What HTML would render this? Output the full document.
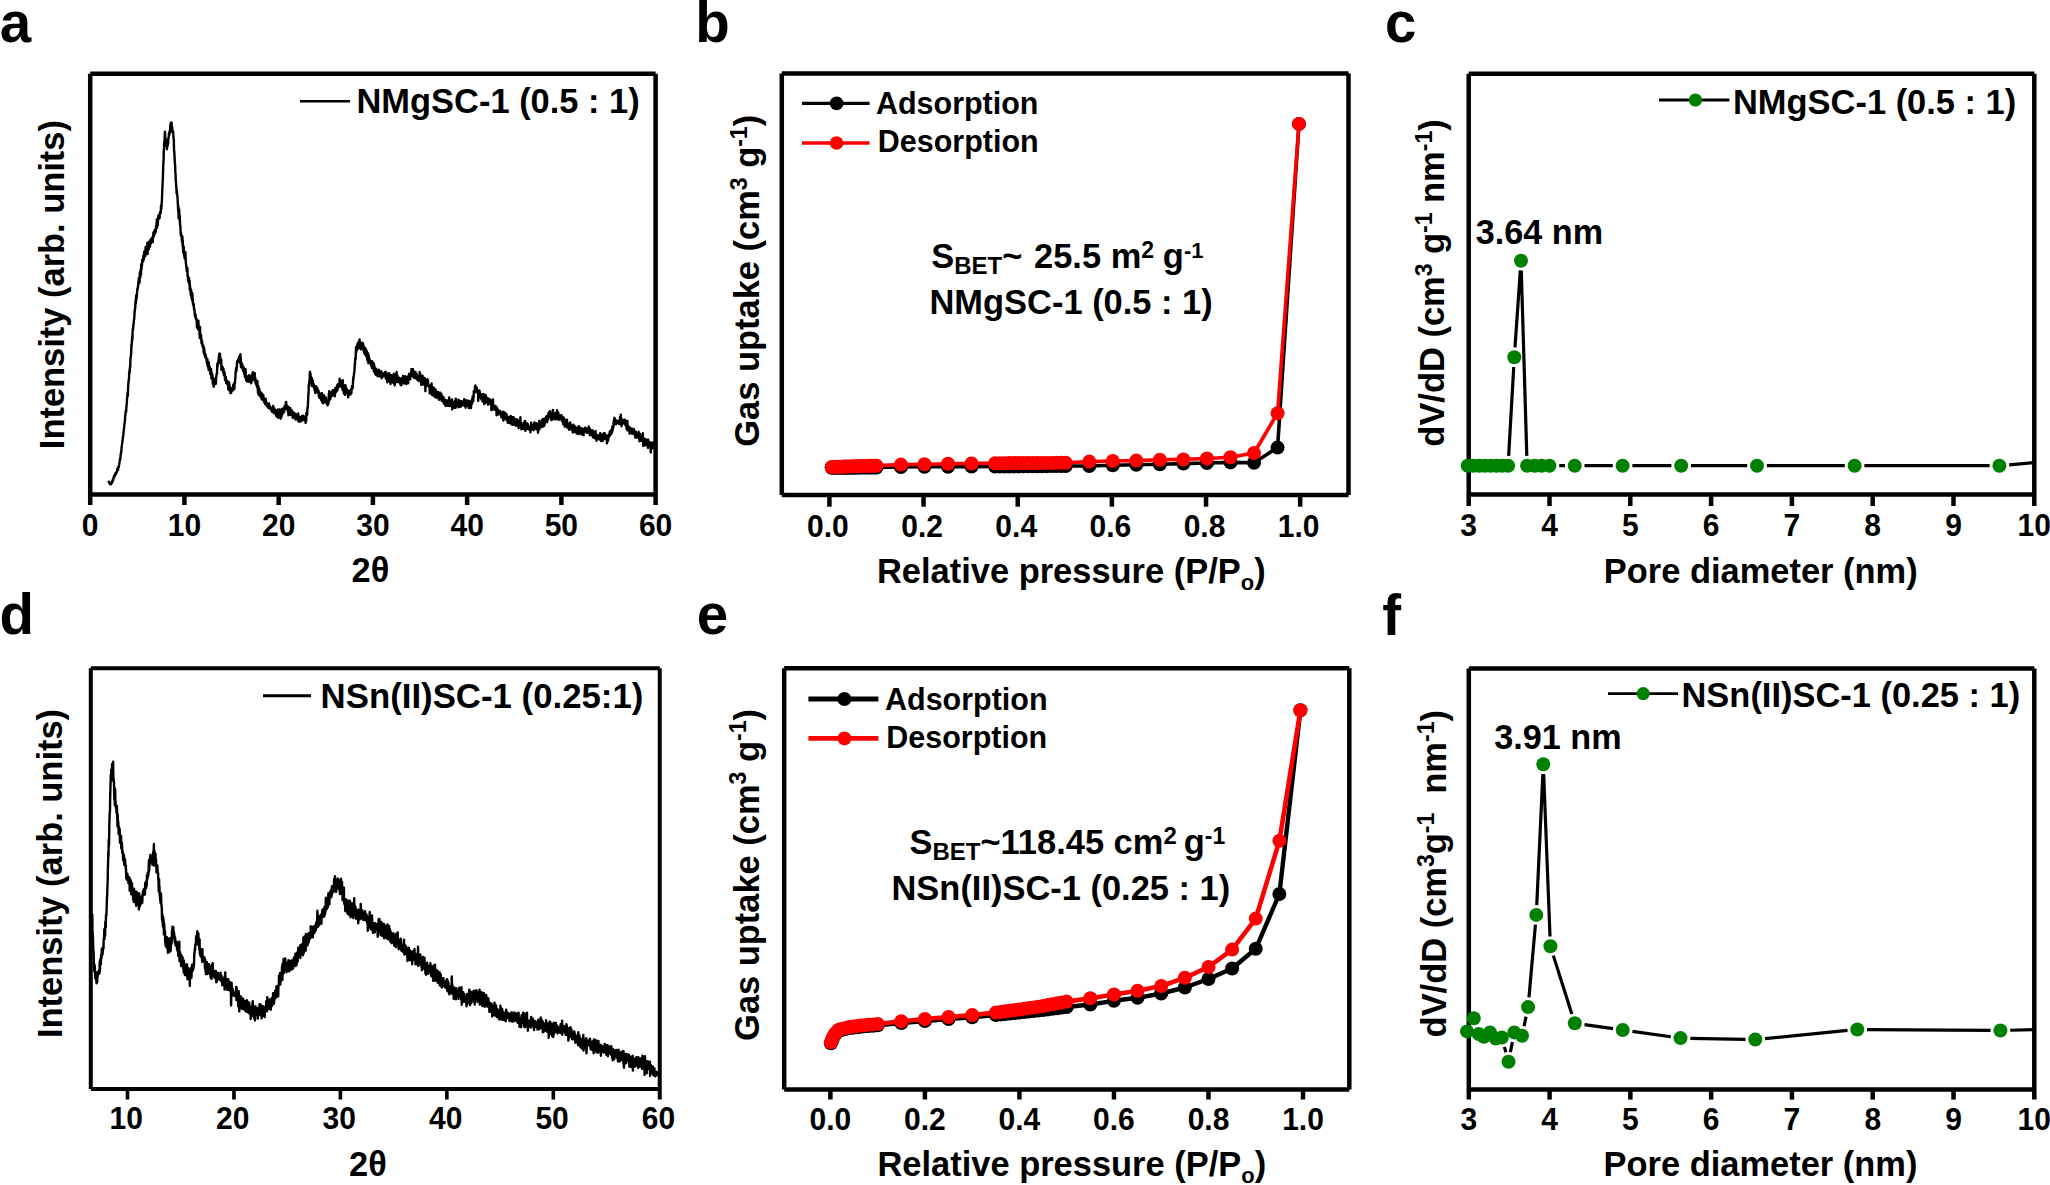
<!DOCTYPE html>
<html lang="en"><head><meta charset="utf-8"><title>Figure</title>
<style>
html,body{margin:0;padding:0;background:#fff;}
body{width:2050px;height:1185px;overflow:hidden;}
svg{display:block;}
svg text{font-family:"Liberation Sans",Arial,sans-serif;font-weight:bold;fill:#000;}
</style></head><body>
<svg width="2050" height="1185" viewBox="0 0 2050 1185">
<rect width="2050" height="1185" fill="#fff"/>
<text transform="translate(-0.30,41.50) scale(1.0,1.0)" font-size="56.5" text-anchor="start" >a</text>
<text transform="translate(695.20,41.80) scale(1.0,1.0)" font-size="56.5" text-anchor="start" >b</text>
<text transform="translate(1385.00,41.50) scale(1.0,1.0)" font-size="56.5" text-anchor="start" >c</text>
<text transform="translate(-0.50,634.40) scale(1.0,1.0)" font-size="56.5" text-anchor="start" >d</text>
<text transform="translate(696.70,634.40) scale(1.0,1.0)" font-size="56.5" text-anchor="start" >e</text>
<text transform="translate(1382.30,634.80) scale(1.0,1.0)" font-size="56.5" text-anchor="start" >f</text>
<line x1="90.20" y1="73.70" x2="655.60" y2="73.70" stroke="#000" stroke-width="4.5" stroke-linecap="butt"/>
<line x1="90.20" y1="494.60" x2="655.60" y2="494.60" stroke="#000" stroke-width="4.5" stroke-linecap="butt"/>
<line x1="90.20" y1="73.70" x2="90.20" y2="505.00" stroke="#000" stroke-width="4.5" stroke-linecap="butt"/>
<line x1="655.60" y1="73.70" x2="655.60" y2="505.00" stroke="#000" stroke-width="4.5" stroke-linecap="butt"/>
<line x1="184.43" y1="494.60" x2="184.43" y2="505.00" stroke="#000" stroke-width="4.5" stroke-linecap="butt"/>
<line x1="278.67" y1="494.60" x2="278.67" y2="505.00" stroke="#000" stroke-width="4.5" stroke-linecap="butt"/>
<line x1="372.90" y1="494.60" x2="372.90" y2="505.00" stroke="#000" stroke-width="4.5" stroke-linecap="butt"/>
<line x1="467.13" y1="494.60" x2="467.13" y2="505.00" stroke="#000" stroke-width="4.5" stroke-linecap="butt"/>
<line x1="561.37" y1="494.60" x2="561.37" y2="505.00" stroke="#000" stroke-width="4.5" stroke-linecap="butt"/>
<text transform="translate(90.20,535.60) scale(1.0,1.06)" font-size="30" text-anchor="middle" >0</text>
<text transform="translate(184.43,535.60) scale(1.0,1.06)" font-size="30" text-anchor="middle" >10</text>
<text transform="translate(278.67,535.60) scale(1.0,1.06)" font-size="30" text-anchor="middle" >20</text>
<text transform="translate(372.90,535.60) scale(1.0,1.06)" font-size="30" text-anchor="middle" >30</text>
<text transform="translate(467.13,535.60) scale(1.0,1.06)" font-size="30" text-anchor="middle" >40</text>
<text transform="translate(561.37,535.60) scale(1.0,1.06)" font-size="30" text-anchor="middle" >50</text>
<text transform="translate(655.60,535.60) scale(1.0,1.06)" font-size="30" text-anchor="middle" >60</text>
<text transform="translate(370.50,581.60) scale(1.0,1.025)" font-size="34.45" text-anchor="middle" >2θ</text>
<text transform="translate(64.00,284.60) rotate(-90) scale(1,1.025)" font-size="34.45" text-anchor="middle">Intensity (arb. units)</text>
<line x1="300.00" y1="101.20" x2="350.00" y2="101.20" stroke="#000" stroke-width="2.6" stroke-linecap="butt"/>
<text transform="translate(356.50,113.00) scale(1.0,1.025)" font-size="34.45" text-anchor="start" >NMgSC-1 (0.5 : 1)</text>
<line x1="781.80" y1="73.50" x2="1348.50" y2="73.50" stroke="#000" stroke-width="4.5" stroke-linecap="butt"/>
<line x1="781.80" y1="495.00" x2="1348.50" y2="495.00" stroke="#000" stroke-width="4.5" stroke-linecap="butt"/>
<line x1="781.80" y1="73.50" x2="781.80" y2="495.00" stroke="#000" stroke-width="4.5" stroke-linecap="butt"/>
<line x1="1348.50" y1="73.50" x2="1348.50" y2="495.00" stroke="#000" stroke-width="4.5" stroke-linecap="butt"/>
<line x1="829.40" y1="495.00" x2="829.40" y2="506.70" stroke="#000" stroke-width="4.5" stroke-linecap="butt"/>
<line x1="923.56" y1="495.00" x2="923.56" y2="506.70" stroke="#000" stroke-width="4.5" stroke-linecap="butt"/>
<line x1="1017.72" y1="495.00" x2="1017.72" y2="506.70" stroke="#000" stroke-width="4.5" stroke-linecap="butt"/>
<line x1="1111.88" y1="495.00" x2="1111.88" y2="506.70" stroke="#000" stroke-width="4.5" stroke-linecap="butt"/>
<line x1="1206.04" y1="495.00" x2="1206.04" y2="506.70" stroke="#000" stroke-width="4.5" stroke-linecap="butt"/>
<line x1="1300.20" y1="495.00" x2="1300.20" y2="506.70" stroke="#000" stroke-width="4.5" stroke-linecap="butt"/>
<text transform="translate(827.90,536.60) scale(1.0,1.06)" font-size="30" text-anchor="middle" >0.0</text>
<text transform="translate(922.06,536.60) scale(1.0,1.06)" font-size="30" text-anchor="middle" >0.2</text>
<text transform="translate(1016.22,536.60) scale(1.0,1.06)" font-size="30" text-anchor="middle" >0.4</text>
<text transform="translate(1110.38,536.60) scale(1.0,1.06)" font-size="30" text-anchor="middle" >0.6</text>
<text transform="translate(1204.54,536.60) scale(1.0,1.06)" font-size="30" text-anchor="middle" >0.8</text>
<text transform="translate(1298.70,536.60) scale(1.0,1.06)" font-size="30" text-anchor="middle" >1.0</text>
<text transform="translate(877.00,583.40) scale(1.0,1.025)" font-size="34.45" text-anchor="start" >Relative pressure (P/P<tspan font-size="22" dy="6.6">o</tspan><tspan dy="-6.6" font-size="1">&#8203;</tspan>)</text>
<text transform="translate(759.20,280.80) rotate(-90) scale(1,1.025)" font-size="34.45" text-anchor="middle">Gas uptake (cm<tspan font-size="23" dy="-12">3</tspan><tspan dy="12" font-size="1">&#8203;</tspan> g<tspan font-size="23" dy="-12">-1</tspan><tspan dy="12" font-size="1">&#8203;</tspan>)</text>
<line x1="1468.70" y1="73.80" x2="2034.30" y2="73.80" stroke="#000" stroke-width="4.5" stroke-linecap="butt"/>
<line x1="1468.70" y1="494.60" x2="2034.30" y2="494.60" stroke="#000" stroke-width="4.5" stroke-linecap="butt"/>
<line x1="1468.70" y1="73.80" x2="1468.70" y2="506.00" stroke="#000" stroke-width="4.5" stroke-linecap="butt"/>
<line x1="2034.30" y1="73.80" x2="2034.30" y2="506.00" stroke="#000" stroke-width="4.5" stroke-linecap="butt"/>
<line x1="1549.50" y1="494.60" x2="1549.50" y2="506.00" stroke="#000" stroke-width="4.5" stroke-linecap="butt"/>
<line x1="1630.30" y1="494.60" x2="1630.30" y2="506.00" stroke="#000" stroke-width="4.5" stroke-linecap="butt"/>
<line x1="1711.10" y1="494.60" x2="1711.10" y2="506.00" stroke="#000" stroke-width="4.5" stroke-linecap="butt"/>
<line x1="1791.90" y1="494.60" x2="1791.90" y2="506.00" stroke="#000" stroke-width="4.5" stroke-linecap="butt"/>
<line x1="1872.70" y1="494.60" x2="1872.70" y2="506.00" stroke="#000" stroke-width="4.5" stroke-linecap="butt"/>
<line x1="1953.50" y1="494.60" x2="1953.50" y2="506.00" stroke="#000" stroke-width="4.5" stroke-linecap="butt"/>
<text transform="translate(1468.70,536.20) scale(1.0,1.06)" font-size="30" text-anchor="middle" >3</text>
<text transform="translate(1549.50,536.20) scale(1.0,1.06)" font-size="30" text-anchor="middle" >4</text>
<text transform="translate(1630.30,536.20) scale(1.0,1.06)" font-size="30" text-anchor="middle" >5</text>
<text transform="translate(1711.10,536.20) scale(1.0,1.06)" font-size="30" text-anchor="middle" >6</text>
<text transform="translate(1791.90,536.20) scale(1.0,1.06)" font-size="30" text-anchor="middle" >7</text>
<text transform="translate(1872.70,536.20) scale(1.0,1.06)" font-size="30" text-anchor="middle" >8</text>
<text transform="translate(1953.50,536.20) scale(1.0,1.06)" font-size="30" text-anchor="middle" >9</text>
<text transform="translate(2034.30,536.20) scale(1.0,1.06)" font-size="30" text-anchor="middle" >10</text>
<text transform="translate(1603.80,582.80) scale(1.0,1.025)" font-size="34.45" text-anchor="start" >Pore diameter (nm)</text>
<text transform="translate(1444.00,283.00) rotate(-90) scale(1,1.025)" font-size="34.45" text-anchor="middle">dV/dD (cm<tspan font-size="23" dy="-12">3</tspan><tspan dy="12" font-size="1">&#8203;</tspan> g<tspan font-size="23" dy="-12">-1</tspan><tspan dy="12" font-size="1">&#8203;</tspan> nm<tspan font-size="23" dy="-12">-1</tspan><tspan dy="12" font-size="1">&#8203;</tspan>)</text>
<line x1="90.80" y1="668.20" x2="659.75" y2="668.20" stroke="#000" stroke-width="4.0" stroke-linecap="butt"/>
<line x1="90.80" y1="1089.00" x2="659.75" y2="1089.00" stroke="#000" stroke-width="4.0" stroke-linecap="butt"/>
<line x1="90.80" y1="668.20" x2="90.80" y2="1089.00" stroke="#000" stroke-width="4.0" stroke-linecap="butt"/>
<line x1="659.75" y1="668.20" x2="659.75" y2="1099.50" stroke="#000" stroke-width="4.0" stroke-linecap="butt"/>
<line x1="127.50" y1="1089.00" x2="127.50" y2="1099.50" stroke="#000" stroke-width="3.6" stroke-linecap="butt"/>
<line x1="233.95" y1="1089.00" x2="233.95" y2="1099.50" stroke="#000" stroke-width="3.6" stroke-linecap="butt"/>
<line x1="340.40" y1="1089.00" x2="340.40" y2="1099.50" stroke="#000" stroke-width="3.6" stroke-linecap="butt"/>
<line x1="446.85" y1="1089.00" x2="446.85" y2="1099.50" stroke="#000" stroke-width="3.6" stroke-linecap="butt"/>
<line x1="553.30" y1="1089.00" x2="553.30" y2="1099.50" stroke="#000" stroke-width="3.6" stroke-linecap="butt"/>
<text transform="translate(126.30,1129.30) scale(1.0,1.06)" font-size="30" text-anchor="middle" >10</text>
<text transform="translate(232.75,1129.30) scale(1.0,1.06)" font-size="30" text-anchor="middle" >20</text>
<text transform="translate(339.20,1129.30) scale(1.0,1.06)" font-size="30" text-anchor="middle" >30</text>
<text transform="translate(445.65,1129.30) scale(1.0,1.06)" font-size="30" text-anchor="middle" >40</text>
<text transform="translate(552.10,1129.30) scale(1.0,1.06)" font-size="30" text-anchor="middle" >50</text>
<text transform="translate(658.55,1129.30) scale(1.0,1.06)" font-size="30" text-anchor="middle" >60</text>
<text transform="translate(368.00,1175.60) scale(1.0,1.025)" font-size="34.45" text-anchor="middle" >2θ</text>
<text transform="translate(62.40,873.50) rotate(-90) scale(1,1.025)" font-size="34.45" text-anchor="middle">Intensity (arb. units)</text>
<line x1="263.00" y1="695.80" x2="311.00" y2="695.80" stroke="#000" stroke-width="3.0" stroke-linecap="butt"/>
<text transform="translate(320.60,708.40) scale(1.0,1.025)" font-size="34.8" text-anchor="start" >NSn(II)SC-1 (0.25:1)</text>
<line x1="784.20" y1="668.30" x2="1349.30" y2="668.30" stroke="#000" stroke-width="4.5" stroke-linecap="butt"/>
<line x1="784.20" y1="1089.50" x2="1349.30" y2="1089.50" stroke="#000" stroke-width="4.5" stroke-linecap="butt"/>
<line x1="784.20" y1="668.30" x2="784.20" y2="1089.50" stroke="#000" stroke-width="4.5" stroke-linecap="butt"/>
<line x1="1349.30" y1="668.30" x2="1349.30" y2="1089.50" stroke="#000" stroke-width="4.5" stroke-linecap="butt"/>
<line x1="830.40" y1="1089.50" x2="830.40" y2="1099.50" stroke="#000" stroke-width="4.5" stroke-linecap="butt"/>
<line x1="924.92" y1="1089.50" x2="924.92" y2="1099.50" stroke="#000" stroke-width="4.5" stroke-linecap="butt"/>
<line x1="1019.44" y1="1089.50" x2="1019.44" y2="1099.50" stroke="#000" stroke-width="4.5" stroke-linecap="butt"/>
<line x1="1113.96" y1="1089.50" x2="1113.96" y2="1099.50" stroke="#000" stroke-width="4.5" stroke-linecap="butt"/>
<line x1="1208.48" y1="1089.50" x2="1208.48" y2="1099.50" stroke="#000" stroke-width="4.5" stroke-linecap="butt"/>
<line x1="1303.00" y1="1089.50" x2="1303.00" y2="1099.50" stroke="#000" stroke-width="4.5" stroke-linecap="butt"/>
<text transform="translate(830.40,1130.00) scale(1.0,1.06)" font-size="30" text-anchor="middle" >0.0</text>
<text transform="translate(924.92,1130.00) scale(1.0,1.06)" font-size="30" text-anchor="middle" >0.2</text>
<text transform="translate(1019.44,1130.00) scale(1.0,1.06)" font-size="30" text-anchor="middle" >0.4</text>
<text transform="translate(1113.96,1130.00) scale(1.0,1.06)" font-size="30" text-anchor="middle" >0.6</text>
<text transform="translate(1208.48,1130.00) scale(1.0,1.06)" font-size="30" text-anchor="middle" >0.8</text>
<text transform="translate(1303.00,1130.00) scale(1.0,1.06)" font-size="30" text-anchor="middle" >1.0</text>
<text transform="translate(877.50,1176.00) scale(1.0,1.025)" font-size="34.45" text-anchor="start" >Relative pressure (P/P<tspan font-size="22" dy="6.6">o</tspan><tspan dy="-6.6" font-size="1">&#8203;</tspan>)</text>
<text transform="translate(758.50,875.00) rotate(-90) scale(1,1.025)" font-size="34.45" text-anchor="middle">Gas uptake (cm<tspan font-size="23" dy="-12">3</tspan><tspan dy="12" font-size="1">&#8203;</tspan> g<tspan font-size="23" dy="-12">-1</tspan><tspan dy="12" font-size="1">&#8203;</tspan>)</text>
<line x1="1468.80" y1="668.40" x2="2034.30" y2="668.40" stroke="#000" stroke-width="4.5" stroke-linecap="butt"/>
<line x1="1468.80" y1="1089.60" x2="2034.30" y2="1089.60" stroke="#000" stroke-width="4.5" stroke-linecap="butt"/>
<line x1="1468.80" y1="668.40" x2="1468.80" y2="1099.60" stroke="#000" stroke-width="4.5" stroke-linecap="butt"/>
<line x1="2034.30" y1="668.40" x2="2034.30" y2="1099.60" stroke="#000" stroke-width="4.5" stroke-linecap="butt"/>
<line x1="1549.59" y1="1089.60" x2="1549.59" y2="1099.60" stroke="#000" stroke-width="4.5" stroke-linecap="butt"/>
<line x1="1630.37" y1="1089.60" x2="1630.37" y2="1099.60" stroke="#000" stroke-width="4.5" stroke-linecap="butt"/>
<line x1="1711.16" y1="1089.60" x2="1711.16" y2="1099.60" stroke="#000" stroke-width="4.5" stroke-linecap="butt"/>
<line x1="1791.94" y1="1089.60" x2="1791.94" y2="1099.60" stroke="#000" stroke-width="4.5" stroke-linecap="butt"/>
<line x1="1872.73" y1="1089.60" x2="1872.73" y2="1099.60" stroke="#000" stroke-width="4.5" stroke-linecap="butt"/>
<line x1="1953.51" y1="1089.60" x2="1953.51" y2="1099.60" stroke="#000" stroke-width="4.5" stroke-linecap="butt"/>
<text transform="translate(1468.80,1130.20) scale(1.0,1.06)" font-size="30" text-anchor="middle" >3</text>
<text transform="translate(1549.59,1130.20) scale(1.0,1.06)" font-size="30" text-anchor="middle" >4</text>
<text transform="translate(1630.37,1130.20) scale(1.0,1.06)" font-size="30" text-anchor="middle" >5</text>
<text transform="translate(1711.16,1130.20) scale(1.0,1.06)" font-size="30" text-anchor="middle" >6</text>
<text transform="translate(1791.94,1130.20) scale(1.0,1.06)" font-size="30" text-anchor="middle" >7</text>
<text transform="translate(1872.73,1130.20) scale(1.0,1.06)" font-size="30" text-anchor="middle" >8</text>
<text transform="translate(1953.51,1130.20) scale(1.0,1.06)" font-size="30" text-anchor="middle" >9</text>
<text transform="translate(2034.30,1130.20) scale(1.0,1.06)" font-size="30" text-anchor="middle" >10</text>
<text transform="translate(1603.50,1175.90) scale(1.0,1.025)" font-size="34.45" text-anchor="start" >Pore diameter (nm)</text>
<text transform="translate(1446.30,873.75) rotate(-90) scale(1,1.025)" font-size="34.45" text-anchor="middle">dV/dD (cm<tspan font-size="23" dy="-12">3</tspan><tspan dy="12" font-size="1">&#8203;</tspan>g<tspan font-size="23" dy="-12">-1</tspan><tspan dy="12" font-size="1">&#8203;</tspan>&#160;&#160;nm<tspan font-size="23" dy="-12">-1</tspan><tspan dy="12" font-size="1">&#8203;</tspan>)</text>
<path d="M108.6 482.4 108.8 481.6 109.0 482.4 109.2 483.0 109.4 482.6 109.6 483.3 109.8 483.5 110.0 482.7 110.2 484.4 110.4 484.3 110.6 483.6 110.8 483.9 111.0 484.3 111.2 483.7 111.4 483.5 111.6 482.5 111.8 483.2 112.0 482.5 112.2 482.1 112.4 480.4 112.6 481.7 112.8 480.3 113.0 479.4 113.2 480.2 113.4 478.5 113.6 477.1 113.8 477.3 114.0 475.8 114.2 477.3 114.4 476.1 114.6 475.5 114.8 476.1 115.0 474.2 115.2 475.1 115.4 473.1 115.6 473.6 115.8 472.9 116.0 474.1 116.2 473.8 116.4 472.2 116.6 472.4 116.8 471.4 117.0 471.4 117.2 470.1 117.4 469.1 117.6 468.5 117.8 469.2 118.0 469.8 118.2 468.0 118.4 466.9 118.6 467.7 118.8 466.0 119.0 465.1 119.2 464.3 119.4 463.1 119.6 462.0 119.8 460.1 120.0 460.1 120.2 458.5 120.4 458.0 120.6 455.6 120.8 453.3 121.0 452.9 121.2 452.5 121.4 449.6 121.6 447.7 121.8 445.9 122.0 444.4 122.2 443.2 122.4 440.9 122.6 440.9 122.8 438.1 123.0 436.7 123.2 435.8 123.4 434.2 123.6 431.4 123.8 430.1 124.0 428.7 124.2 426.3 124.4 423.5 124.6 423.3 124.8 421.6 125.0 420.1 125.2 415.3 125.4 415.0 125.6 412.1 125.8 410.8 126.0 412.4 126.2 410.9 126.4 407.0 126.6 404.6 126.8 402.9 127.0 399.2 127.2 397.0 127.4 393.5 127.6 392.8 127.8 396.0 128.0 390.6 128.2 385.7 128.4 383.2 128.6 380.1 128.8 380.9 129.0 378.7 129.2 372.1 129.4 374.3 129.6 369.4 129.8 371.8 130.0 366.3 130.2 367.5 130.4 359.7 130.6 357.6 130.8 356.4 131.0 355.7 131.2 351.9 131.4 344.9 131.6 345.9 131.8 343.0 132.0 339.3 132.2 336.3 132.4 339.9 132.6 332.1 132.8 328.7 133.0 330.2 133.2 326.7 133.4 324.1 133.6 324.3 133.8 321.6 134.0 319.4 134.2 319.2 134.4 315.7 134.6 311.6 134.8 310.6 135.0 308.5 135.2 308.7 135.4 303.7 135.6 300.2 135.8 303.6 136.0 298.4 136.2 295.2 136.4 299.9 136.6 295.6 136.8 297.3 137.0 293.2 137.2 290.2 137.4 288.5 137.6 289.1 137.8 288.4 138.0 285.6 138.2 285.8 138.4 281.2 138.6 284.1 138.8 278.0 139.0 281.1 139.2 282.2 139.4 282.1 139.6 282.6 139.8 272.5 140.0 277.6 140.2 277.6 140.4 275.8 140.6 269.4 140.8 271.9 141.0 274.7 141.2 264.4 141.4 268.7 141.6 269.3 141.8 263.3 142.0 265.8 142.2 260.3 142.4 260.0 142.6 259.1 142.8 261.0 143.0 259.3 143.2 261.4 143.4 255.4 143.6 256.9 143.8 259.3 144.0 257.6 144.2 251.8 144.4 256.7 144.6 253.0 144.8 254.9 145.0 254.2 145.2 256.3 145.4 252.8 145.6 246.9 145.8 247.8 146.0 253.2 146.2 250.1 146.4 253.6 146.6 250.8 146.8 247.6 147.0 252.4 147.2 246.8 147.4 243.0 147.6 254.1 147.8 242.7 148.0 249.5 148.2 250.0 148.4 247.4 148.6 242.0 148.8 249.2 149.0 241.9 149.2 241.9 149.4 244.2 149.6 247.1 149.8 245.3 150.0 246.3 150.2 242.4 150.4 242.7 150.6 239.5 150.8 241.4 151.0 243.4 151.2 240.4 151.4 242.1 151.6 238.7 151.8 238.1 152.0 239.4 152.2 238.2 152.4 239.9 152.6 238.2 152.8 242.1 153.0 236.0 153.2 235.5 153.4 232.6 153.6 235.0 153.8 236.4 154.0 231.7 154.2 233.1 154.4 234.7 154.6 231.7 154.8 230.0 155.0 233.6 155.2 230.5 155.4 230.7 155.6 232.3 155.8 231.6 156.0 226.7 156.2 225.5 156.4 227.2 156.6 225.3 156.8 219.5 157.0 227.9 157.2 223.6 157.4 225.0 157.6 218.8 157.8 225.2 158.0 219.1 158.2 219.8 158.4 215.5 158.6 218.4 158.8 217.6 159.0 217.1 159.2 218.2 159.4 216.4 159.6 218.3 159.8 213.4 160.0 212.2 160.2 213.0 160.4 213.2 160.6 213.3 160.8 211.4 161.0 205.7 161.2 208.2 161.4 208.7 161.6 204.7 161.8 202.1 162.0 198.4 162.2 191.9 162.4 188.8 162.6 182.6 162.8 180.0 163.0 173.3 163.2 166.0 163.4 163.3 163.6 158.8 163.8 151.0 164.0 148.4 164.2 142.1 164.4 145.2 164.6 139.6 164.8 133.9 165.0 131.7 165.2 135.9 165.4 139.1 165.6 138.8 165.8 141.1 166.0 139.5 166.2 140.4 166.4 145.9 166.6 146.4 166.8 146.8 167.0 149.3 167.2 144.0 167.4 143.9 167.6 145.4 167.8 145.8 168.0 141.2 168.2 143.2 168.4 137.8 168.6 138.4 168.8 136.3 169.0 132.6 169.2 134.9 169.4 135.0 169.6 131.8 169.8 130.8 170.0 132.5 170.2 126.3 170.4 124.7 170.6 125.2 170.8 123.0 171.0 126.7 171.2 123.6 171.4 122.5 171.6 124.0 171.8 131.7 172.0 126.2 172.2 127.0 172.4 130.1 172.6 131.8 172.8 132.1 173.0 131.1 173.2 131.7 173.4 136.1 173.6 138.7 173.8 139.5 174.0 148.6 174.2 151.6 174.4 153.6 174.6 157.3 174.8 162.0 175.0 164.1 175.2 166.7 175.4 173.6 175.6 174.2 175.8 181.3 176.0 181.8 176.2 186.2 176.4 188.1 176.6 193.5 176.8 190.4 177.0 191.8 177.2 195.2 177.4 196.3 177.6 199.2 177.8 203.0 178.0 206.5 178.2 211.1 178.4 206.1 178.6 217.9 178.8 217.9 179.0 213.6 179.2 209.5 179.4 217.9 179.6 220.3 179.8 215.5 180.0 224.3 180.2 225.5 180.4 225.8 180.6 231.8 180.8 234.9 181.0 232.6 181.2 236.2 181.4 234.9 181.6 235.8 181.8 239.4 182.0 241.8 182.2 240.0 182.4 236.5 182.6 245.6 182.8 240.6 183.0 246.7 183.2 252.5 183.4 248.7 183.6 246.6 183.8 247.0 184.0 255.5 184.2 253.4 184.4 256.2 184.6 258.4 184.8 256.9 185.0 257.4 185.2 256.8 185.4 252.1 185.6 257.6 185.8 262.8 186.0 263.7 186.2 266.5 186.4 266.2 186.6 268.2 186.8 271.1 187.0 267.7 187.2 270.5 187.4 268.2 187.6 276.4 187.8 275.0 188.0 277.4 188.2 281.3 188.4 281.2 188.6 279.2 188.8 282.6 189.0 277.7 189.2 283.9 189.4 284.2 189.6 280.6 189.8 289.6 190.0 285.2 190.2 290.1 190.4 288.2 190.6 293.1 190.8 295.0 191.0 290.5 191.2 289.7 191.4 294.5 191.6 298.2 191.8 296.1 192.0 296.6 192.2 300.6 192.4 293.2 192.6 299.8 192.8 299.0 193.0 304.5 193.2 302.9 193.4 303.0 193.6 306.1 193.8 304.3 194.0 309.2 194.2 308.6 194.4 310.5 194.6 310.7 194.8 315.8 195.0 313.9 195.2 316.3 195.4 317.0 195.6 314.5 195.8 318.8 196.0 319.0 196.2 319.7 196.4 318.7 196.6 319.4 196.8 323.3 197.0 327.7 197.2 320.8 197.4 325.1 197.6 323.6 197.8 327.3 198.0 327.2 198.2 329.6 198.4 320.6 198.6 326.9 198.8 326.7 199.0 329.8 199.2 329.0 199.4 330.0 199.6 334.1 199.8 338.0 200.0 326.9 200.2 334.1 200.4 336.5 200.6 336.6 200.8 336.6 201.0 335.0 201.2 336.9 201.4 341.9 201.6 343.6 201.8 342.1 202.0 340.6 202.2 343.8 202.4 343.8 202.6 346.6 202.8 346.5 203.0 345.5 203.2 348.4 203.4 345.7 203.6 351.3 203.8 352.9 204.0 347.8 204.2 352.4 204.4 349.7 204.6 355.4 204.8 355.7 205.0 353.6 205.2 357.3 205.4 354.5 205.6 354.7 205.8 355.6 206.0 357.3 206.2 357.6 206.4 359.4 206.6 358.3 206.8 362.3 207.0 363.6 207.2 360.7 207.4 359.1 207.6 364.9 207.8 366.5 208.0 364.0 208.2 361.9 208.4 366.2 208.6 369.9 208.8 362.3 209.0 368.5 209.2 367.2 209.4 366.6 209.6 370.4 209.8 366.7 210.0 371.1 210.2 374.1 210.4 372.0 210.6 370.1 210.8 368.6 211.0 370.4 211.2 369.6 211.4 378.4 211.6 374.6 211.8 373.3 212.0 373.5 212.2 374.8 212.4 377.4 212.6 375.9 212.8 383.7 213.0 378.7 213.2 379.4 213.4 382.8 213.6 386.2 213.8 386.7 214.0 383.3 214.2 384.6 214.4 383.9 214.6 384.4 214.8 383.4 215.0 380.1 215.2 379.0 215.4 381.9 215.6 378.3 215.8 383.9 216.0 380.4 216.2 376.7 216.4 376.5 216.6 374.2 216.8 373.2 217.0 373.9 217.2 366.3 217.4 363.4 217.6 366.8 217.8 364.1 218.0 363.8 218.2 363.3 218.4 360.7 218.6 361.9 218.8 356.7 219.0 357.9 219.2 354.5 219.4 353.6 219.6 358.6 219.8 359.2 220.0 353.8 220.2 356.5 220.4 360.7 220.6 363.3 220.8 359.8 221.0 361.7 221.2 359.5 221.4 369.7 221.6 365.5 221.8 367.2 222.0 367.3 222.2 368.6 222.4 368.5 222.6 366.9 222.8 370.1 223.0 369.2 223.2 372.8 223.4 368.6 223.6 369.7 223.8 373.3 224.0 375.4 224.2 373.4 224.4 372.0 224.6 374.1 224.8 373.8 225.0 380.1 225.2 378.3 225.4 379.8 225.6 378.1 225.8 376.7 226.0 381.4 226.2 383.1 226.4 381.2 226.6 380.4 226.8 383.6 227.0 380.8 227.2 384.1 227.4 381.2 227.6 381.2 227.8 385.4 228.0 385.4 228.2 389.4 228.4 384.7 228.6 385.9 228.8 383.5 229.0 382.2 229.2 382.9 229.4 388.5 229.6 385.1 229.8 390.8 230.0 391.9 230.2 388.3 230.4 393.2 230.6 390.3 230.8 392.8 231.0 390.1 231.2 392.9 231.4 388.2 231.6 391.6 231.8 388.8 232.0 389.3 232.2 390.8 232.4 389.5 232.6 388.6 232.8 390.2 233.0 390.1 233.2 384.8 233.4 389.0 233.6 389.0 233.8 385.4 234.0 387.8 234.2 383.6 234.4 389.0 234.6 383.3 234.8 381.9 235.0 383.1 235.2 378.2 235.4 378.2 235.6 372.5 235.8 371.9 236.0 368.2 236.2 369.7 236.4 371.3 236.6 368.0 236.8 368.3 237.0 362.3 237.2 361.3 237.4 361.0 237.6 362.2 237.8 361.3 238.0 360.0 238.2 361.2 238.4 358.9 238.6 358.9 238.8 361.7 239.0 356.8 239.2 358.3 239.4 361.4 239.6 357.3 239.8 358.4 240.0 355.6 240.2 363.1 240.4 354.1 240.6 358.1 240.8 359.5 241.0 367.2 241.2 365.3 241.4 364.7 241.6 362.9 241.8 367.4 242.0 367.3 242.2 365.9 242.4 364.6 242.6 366.1 242.8 369.8 243.0 370.6 243.2 370.6 243.4 370.6 243.6 367.3 243.8 372.2 244.0 370.1 244.2 373.2 244.4 374.6 244.6 372.4 244.8 372.0 245.0 377.3 245.2 376.2 245.4 374.4 245.6 369.3 245.8 376.7 246.0 378.8 246.2 380.4 246.4 376.6 246.6 377.2 246.8 378.1 247.0 381.6 247.2 377.3 247.4 379.7 247.6 377.7 247.8 380.4 248.0 376.1 248.2 380.5 248.4 378.3 248.6 378.9 248.8 380.6 249.0 381.9 249.2 375.1 249.4 381.4 249.6 380.2 249.8 378.1 250.0 382.0 250.2 379.1 250.4 381.6 250.6 377.0 250.8 376.3 251.0 381.1 251.2 383.3 251.4 379.5 251.6 380.0 251.8 376.6 252.0 374.5 252.2 376.9 252.4 380.8 252.6 372.7 252.8 375.8 253.0 372.3 253.2 376.9 253.4 378.5 253.6 373.3 253.8 375.2 254.0 379.1 254.2 375.6 254.4 373.6 254.6 374.1 254.8 373.2 255.0 380.5 255.2 377.6 255.4 382.6 255.6 382.8 255.8 380.0 256.0 381.0 256.2 384.8 256.4 383.9 256.6 384.8 256.8 380.8 257.0 387.3 257.2 383.8 257.4 381.1 257.6 385.5 257.8 388.4 258.0 392.9 258.2 387.7 258.4 386.1 258.6 394.6 258.8 390.6 259.0 390.2 259.2 388.7 259.4 389.2 259.6 395.3 259.8 391.6 260.0 391.4 260.2 391.8 260.4 396.9 260.6 392.3 260.8 395.5 261.0 395.0 261.2 395.3 261.4 393.1 261.6 397.0 261.8 399.5 262.0 396.1 262.2 394.4 262.4 394.0 262.6 397.7 262.8 397.0 263.0 397.7 263.2 398.4 263.4 395.3 263.6 400.8 263.8 400.0 264.0 399.6 264.2 400.7 264.4 402.6 264.6 400.9 264.8 399.1 265.0 404.0 265.2 400.6 265.4 400.2 265.6 398.6 265.8 402.5 266.0 400.3 266.2 401.8 266.4 404.3 266.6 403.6 266.8 406.1 267.0 404.8 267.2 403.5 267.4 403.9 267.6 403.8 267.8 406.7 268.0 405.5 268.2 404.9 268.4 408.0 268.6 406.6 268.8 405.6 269.0 403.5 269.2 408.2 269.4 408.0 269.6 407.8 269.8 407.0 270.0 406.3 270.2 407.8 270.4 409.0 270.6 408.4 270.8 408.5 271.0 407.9 271.2 409.9 271.4 409.8 271.6 407.8 271.8 411.3 272.0 411.6 272.2 411.8 272.4 409.8 272.6 409.8 272.8 407.8 273.0 412.3 273.2 406.0 273.4 410.0 273.6 410.3 273.8 413.2 274.0 411.4 274.2 409.4 274.4 408.5 274.6 410.3 274.8 412.3 275.0 412.3 275.2 411.9 275.4 410.9 275.6 412.0 275.8 414.8 276.0 410.1 276.2 412.7 276.4 416.3 276.6 414.0 276.8 411.8 277.0 414.4 277.2 411.3 277.4 413.1 277.6 416.6 277.8 417.4 278.0 409.4 278.2 414.9 278.4 417.7 278.6 412.2 278.8 414.1 279.0 416.9 279.2 412.5 279.4 414.7 279.6 413.6 279.8 409.5 280.0 414.7 280.2 413.5 280.4 416.1 280.6 418.7 280.8 415.7 281.0 413.4 281.2 415.3 281.4 414.8 281.6 416.7 281.8 410.8 282.0 411.0 282.2 408.6 282.4 414.1 282.6 412.3 282.8 410.5 283.0 409.9 283.2 409.8 283.4 408.6 283.6 409.6 283.8 408.7 284.0 412.4 284.2 409.4 284.4 406.3 284.6 406.3 284.8 409.7 285.0 407.5 285.2 406.6 285.4 407.0 285.6 408.4 285.8 402.4 286.0 403.8 286.2 402.0 286.4 407.3 286.6 405.7 286.8 405.4 287.0 405.6 287.2 409.2 287.4 407.7 287.6 407.2 287.8 411.6 288.0 406.8 288.2 406.5 288.4 415.3 288.6 408.9 288.8 408.7 289.0 408.5 289.2 410.0 289.4 412.3 289.6 412.4 289.8 412.1 290.0 410.5 290.2 408.0 290.4 412.1 290.6 415.1 290.8 414.3 291.0 411.7 291.2 414.1 291.4 411.6 291.6 412.6 291.8 410.2 292.0 412.4 292.2 413.6 292.4 413.1 292.6 415.3 292.8 418.0 293.0 416.9 293.2 413.4 293.4 412.6 293.6 412.9 293.8 412.3 294.0 414.7 294.2 415.7 294.4 415.4 294.6 415.5 294.8 415.6 295.0 415.1 295.2 413.9 295.4 419.5 295.6 418.2 295.8 414.0 296.0 414.1 296.2 415.0 296.4 416.5 296.6 419.4 296.8 418.9 297.0 419.2 297.2 419.3 297.4 419.4 297.6 418.7 297.8 418.2 298.0 417.0 298.2 413.5 298.4 417.2 298.6 421.6 298.8 416.5 299.0 416.4 299.2 420.1 299.4 418.1 299.6 417.0 299.8 421.6 300.0 419.6 300.2 420.0 300.4 417.2 300.6 419.6 300.8 419.5 301.0 420.4 301.2 421.2 301.4 421.1 301.6 418.9 301.8 420.1 302.0 416.0 302.2 419.9 302.4 419.9 302.6 417.5 302.8 416.6 303.0 418.2 303.2 415.6 303.4 419.0 303.6 418.8 303.8 416.1 304.0 418.2 304.2 420.4 304.4 420.4 304.6 420.2 304.8 417.6 305.0 417.2 305.2 417.0 305.4 419.2 305.6 423.0 305.8 420.9 306.0 421.2 306.2 420.7 306.4 412.7 306.6 414.5 306.8 412.6 307.0 414.9 307.2 414.5 307.4 407.9 307.6 408.1 307.8 407.8 308.0 402.6 308.2 398.0 308.4 393.6 308.6 392.9 308.8 384.4 309.0 386.1 309.2 381.7 309.4 381.3 309.6 381.2 309.8 374.1 310.0 371.8 310.2 375.8 310.4 373.4 310.6 375.2 310.8 377.7 311.0 379.4 311.2 377.2 311.4 380.2 311.6 383.6 311.8 385.6 312.0 378.2 312.2 386.1 312.4 385.4 312.6 381.1 312.8 380.5 313.0 385.2 313.2 383.5 313.4 385.1 313.6 387.0 313.8 384.5 314.0 386.0 314.2 387.0 314.4 388.2 314.6 390.5 314.8 390.7 315.0 387.6 315.2 386.8 315.4 393.1 315.6 389.5 315.8 389.4 316.0 386.3 316.2 391.0 316.4 387.8 316.6 389.0 316.8 387.4 317.0 389.7 317.2 391.4 317.4 388.2 317.6 390.0 317.8 392.3 318.0 390.0 318.2 390.4 318.4 391.8 318.6 390.9 318.8 395.9 319.0 392.6 319.2 397.0 319.4 397.6 319.6 393.0 319.8 396.1 320.0 395.1 320.2 393.9 320.4 396.0 320.6 396.4 320.8 398.9 321.0 399.8 321.2 395.2 321.4 397.1 321.6 399.4 321.8 401.2 322.0 393.2 322.2 401.9 322.4 398.9 322.6 403.0 322.8 398.8 323.0 398.1 323.2 400.4 323.4 403.2 323.6 400.6 323.8 395.3 324.0 402.2 324.2 397.1 324.4 398.5 324.6 398.2 324.8 396.7 325.0 398.1 325.2 398.7 325.4 399.6 325.6 400.9 325.8 400.4 326.0 397.8 326.2 400.8 326.4 403.5 326.6 403.5 326.8 401.7 327.0 402.8 327.2 403.5 327.4 404.6 327.6 405.4 327.8 400.7 328.0 400.4 328.2 403.9 328.4 403.7 328.6 403.3 328.8 394.0 329.0 398.5 329.2 391.1 329.4 399.8 329.6 397.9 329.8 397.5 330.0 396.6 330.2 399.5 330.4 395.4 330.6 398.1 330.8 396.6 331.0 395.8 331.2 395.9 331.4 394.9 331.6 391.9 331.8 395.8 332.0 395.6 332.2 393.5 332.4 395.3 332.6 395.5 332.8 390.2 333.0 392.7 333.2 391.8 333.4 390.5 333.6 393.1 333.8 390.3 334.0 391.0 334.2 392.4 334.4 392.4 334.6 392.1 334.8 396.4 335.0 389.8 335.2 391.4 335.4 387.7 335.6 391.2 335.8 392.4 336.0 392.2 336.2 387.6 336.4 388.1 336.6 391.3 336.8 387.8 337.0 389.9 337.2 385.1 337.4 390.2 337.6 389.0 337.8 387.3 338.0 384.1 338.2 385.2 338.4 385.6 338.6 385.5 338.8 384.3 339.0 383.7 339.2 384.3 339.4 386.7 339.6 378.7 339.8 380.5 340.0 380.3 340.2 382.6 340.4 380.4 340.6 386.0 340.8 385.2 341.0 384.6 341.2 383.8 341.4 386.1 341.6 386.4 341.8 387.0 342.0 384.7 342.2 388.2 342.4 383.5 342.6 390.1 342.8 380.3 343.0 386.3 343.2 385.2 343.4 390.0 343.6 385.0 343.8 392.9 344.0 385.3 344.2 393.8 344.4 390.3 344.6 389.6 344.8 390.7 345.0 395.0 345.2 392.1 345.4 385.1 345.6 393.2 345.8 391.2 346.0 387.1 346.2 392.8 346.4 388.5 346.6 391.9 346.8 392.2 347.0 390.3 347.2 393.5 347.4 389.9 347.6 392.9 347.8 391.4 348.0 392.4 348.2 397.4 348.4 393.5 348.6 390.9 348.8 393.3 349.0 392.0 349.2 394.1 349.4 394.0 349.6 393.5 349.8 393.2 350.0 391.4 350.2 393.4 350.4 394.5 350.6 390.2 350.8 391.2 351.0 391.2 351.2 393.6 351.4 392.9 351.6 388.3 351.8 389.9 352.0 385.9 352.2 386.8 352.4 388.7 352.6 388.2 352.8 387.0 353.0 382.1 353.2 377.8 353.4 379.9 353.6 376.6 353.8 376.1 354.0 373.5 354.2 372.9 354.4 370.8 354.6 369.1 354.8 363.6 355.0 364.7 355.2 358.6 355.4 357.7 355.6 359.6 355.8 353.5 356.0 347.3 356.2 352.4 356.4 350.7 356.6 350.6 356.8 347.8 357.0 347.7 357.2 345.8 357.4 344.1 357.6 349.2 357.8 344.0 358.0 343.2 358.2 342.8 358.4 348.1 358.6 345.2 358.8 341.6 359.0 342.6 359.2 344.3 359.4 345.4 359.6 339.5 359.8 346.0 360.0 343.5 360.2 342.6 360.4 343.5 360.6 346.7 360.8 349.4 361.0 345.6 361.2 346.9 361.4 343.8 361.6 347.2 361.8 348.3 362.0 342.8 362.2 345.5 362.4 349.0 362.6 342.9 362.8 346.6 363.0 349.3 363.2 343.9 363.4 347.5 363.6 349.0 363.8 351.5 364.0 346.6 364.2 352.8 364.4 351.3 364.6 353.8 364.8 354.2 365.0 352.5 365.2 353.3 365.4 348.2 365.6 349.6 365.8 350.8 366.0 352.8 366.2 356.4 366.4 350.1 366.6 354.1 366.8 352.1 367.0 351.9 367.2 359.7 367.4 356.7 367.6 360.8 367.8 360.1 368.0 355.3 368.2 353.4 368.4 363.3 368.6 357.6 368.8 356.2 369.0 361.0 369.2 360.0 369.4 358.4 369.6 359.5 369.8 361.1 370.0 361.2 370.2 363.2 370.4 360.9 370.6 361.3 370.8 363.9 371.0 363.5 371.2 365.8 371.4 362.9 371.6 363.6 371.8 361.4 372.0 368.1 372.2 361.5 372.4 365.7 372.6 363.4 372.8 366.7 373.0 368.1 373.2 362.7 373.4 366.5 373.6 363.1 373.8 371.0 374.0 367.0 374.2 364.6 374.4 367.0 374.6 372.2 374.8 373.0 375.0 372.8 375.2 368.2 375.4 370.1 375.6 374.7 375.8 369.4 376.0 370.7 376.2 369.4 376.4 369.0 376.6 374.8 376.8 373.5 377.0 373.2 377.2 373.7 377.4 374.9 377.6 376.2 377.8 372.7 378.0 372.0 378.2 370.5 378.4 375.7 378.6 372.0 378.8 369.8 379.0 372.9 379.2 373.7 379.4 375.8 379.6 376.3 379.8 372.3 380.0 372.3 380.2 373.5 380.4 371.6 380.6 374.3 380.8 375.8 381.0 375.0 381.2 371.2 381.4 372.3 381.6 378.3 381.8 373.0 382.0 377.3 382.2 377.2 382.4 375.0 382.6 373.5 382.8 376.4 383.0 373.9 383.2 375.6 383.4 376.3 383.6 374.4 383.8 375.6 384.0 375.5 384.2 373.3 384.4 375.9 384.6 374.9 384.8 372.1 385.0 375.7 385.2 375.8 385.4 375.1 385.6 371.7 385.8 378.5 386.0 378.3 386.2 378.3 386.4 377.6 386.6 373.9 386.8 377.2 387.0 374.8 387.2 382.2 387.4 375.8 387.6 378.7 387.8 373.5 388.0 374.4 388.2 376.0 388.4 379.0 388.6 378.7 388.8 378.1 389.0 373.1 389.2 380.2 389.4 375.4 389.6 381.5 389.8 382.1 390.0 379.7 390.2 380.1 390.4 374.9 390.6 384.0 390.8 378.5 391.0 380.4 391.2 376.0 391.4 377.9 391.6 375.2 391.8 377.5 392.0 378.1 392.2 378.7 392.4 381.4 392.6 379.2 392.8 378.7 393.0 378.2 393.2 382.9 393.4 376.8 393.6 381.0 393.8 373.6 394.0 376.1 394.2 379.2 394.4 377.8 394.6 385.3 394.8 384.3 395.0 374.7 395.2 375.8 395.4 378.0 395.6 382.4 395.8 381.0 396.0 379.1 396.2 375.0 396.4 376.4 396.6 372.0 396.8 374.8 397.0 379.4 397.2 380.3 397.4 375.4 397.6 378.7 397.8 382.3 398.0 378.9 398.2 377.8 398.4 379.9 398.6 379.8 398.8 379.0 399.0 377.7 399.2 378.1 399.4 379.5 399.6 378.2 399.8 382.8 400.0 381.9 400.2 382.4 400.4 384.6 400.6 383.6 400.8 383.2 401.0 380.8 401.2 379.5 401.4 385.4 401.6 378.4 401.8 378.5 402.0 378.0 402.2 380.5 402.4 381.0 402.6 382.5 402.8 379.5 403.0 376.0 403.2 380.9 403.4 382.4 403.6 380.2 403.8 379.9 404.0 381.5 404.2 383.6 404.4 380.1 404.6 376.9 404.8 378.9 405.0 379.9 405.2 376.1 405.4 382.1 405.6 378.5 405.8 381.6 406.0 380.8 406.2 379.7 406.4 384.1 406.6 378.8 406.8 378.3 407.0 380.3 407.2 381.4 407.4 379.2 407.6 376.7 407.8 380.4 408.0 380.0 408.2 383.2 408.4 377.6 408.6 378.4 408.8 376.4 409.0 374.0 409.2 377.5 409.4 379.1 409.6 374.4 409.8 375.0 410.0 373.6 410.2 379.4 410.4 374.5 410.6 377.1 410.8 373.5 411.0 375.5 411.2 373.6 411.4 369.3 411.6 374.9 411.8 375.7 412.0 369.3 412.2 373.6 412.4 372.8 412.6 371.0 412.8 373.0 413.0 369.1 413.2 374.5 413.4 376.9 413.6 371.2 413.8 374.2 414.0 377.9 414.2 375.0 414.4 373.6 414.6 372.8 414.8 375.6 415.0 375.0 415.2 377.0 415.4 372.0 415.6 378.4 415.8 375.0 416.0 377.6 416.2 374.6 416.4 373.4 416.6 375.3 416.8 374.5 417.0 376.0 417.2 378.6 417.4 379.8 417.6 377.9 417.8 376.3 418.0 376.6 418.2 379.3 418.4 380.7 418.6 377.4 418.8 378.0 419.0 376.7 419.2 379.1 419.4 381.0 419.6 372.0 419.8 379.6 420.0 377.8 420.2 373.7 420.4 380.1 420.6 379.2 420.8 380.4 421.0 376.5 421.2 384.8 421.4 380.2 421.6 379.2 421.8 383.7 422.0 381.8 422.2 382.4 422.4 383.2 422.6 375.8 422.8 384.7 423.0 380.1 423.2 381.7 423.4 383.3 423.6 379.6 423.8 382.1 424.0 383.3 424.2 381.5 424.4 382.9 424.6 378.0 424.8 379.1 425.0 379.4 425.2 383.0 425.4 391.1 425.6 383.0 425.8 382.2 426.0 382.5 426.2 385.1 426.4 384.6 426.6 380.3 426.8 385.6 427.0 383.4 427.2 385.6 427.4 379.3 427.6 380.6 427.8 385.8 428.0 380.5 428.2 385.8 428.4 385.9 428.6 385.7 428.8 386.4 429.0 386.5 429.2 387.1 429.4 385.4 429.6 386.5 429.8 393.6 430.0 389.7 430.2 388.7 430.4 388.4 430.6 386.1 430.8 388.5 431.0 387.7 431.2 390.7 431.4 386.6 431.6 383.5 431.8 387.9 432.0 391.0 432.2 395.3 432.4 392.3 432.6 387.9 432.8 389.9 433.0 388.4 433.2 390.4 433.4 388.9 433.6 387.4 433.8 392.4 434.0 392.1 434.2 391.4 434.4 392.8 434.6 396.9 434.8 392.7 435.0 391.7 435.2 394.8 435.4 389.2 435.6 394.9 435.8 391.6 436.0 391.7 436.2 394.1 436.4 397.8 436.6 392.5 436.8 396.6 437.0 395.5 437.2 391.6 437.4 397.1 437.6 393.3 437.8 392.0 438.0 393.8 438.2 394.1 438.4 397.4 438.6 394.5 438.8 399.8 439.0 397.1 439.2 395.2 439.4 395.1 439.6 397.7 439.8 392.8 440.0 392.6 440.2 395.8 440.4 399.4 440.6 398.6 440.8 398.4 441.0 398.0 441.2 393.6 441.4 398.0 441.6 394.8 441.8 400.9 442.0 399.1 442.2 399.1 442.4 400.3 442.6 400.3 442.8 400.2 443.0 400.6 443.2 398.6 443.4 397.0 443.6 401.0 443.8 403.6 444.0 402.8 444.2 400.1 444.4 402.1 444.6 399.9 444.8 401.9 445.0 399.8 445.2 401.6 445.4 406.0 445.6 403.3 445.8 405.1 446.0 400.1 446.2 400.4 446.4 402.0 446.6 403.5 446.8 401.9 447.0 404.8 447.2 401.4 447.4 405.8 447.6 405.1 447.8 400.5 448.0 404.5 448.2 402.8 448.4 405.7 448.6 402.2 448.8 404.2 449.0 404.8 449.2 397.4 449.4 399.4 449.6 404.0 449.8 403.5 450.0 406.1 450.2 404.4 450.4 401.1 450.6 404.8 450.8 402.4 451.0 403.6 451.2 403.1 451.4 405.1 451.6 401.1 451.8 401.9 452.0 399.4 452.2 409.4 452.4 402.3 452.6 402.7 452.8 402.1 453.0 403.3 453.2 403.8 453.4 406.3 453.6 405.3 453.8 405.7 454.0 403.7 454.2 404.9 454.4 407.9 454.6 405.1 454.8 405.8 455.0 400.5 455.2 406.2 455.4 405.6 455.6 407.9 455.8 398.7 456.0 404.9 456.2 404.5 456.4 405.0 456.6 403.3 456.8 405.2 457.0 406.2 457.2 404.7 457.4 403.9 457.6 404.0 457.8 403.6 458.0 404.5 458.2 402.7 458.4 399.8 458.6 407.3 458.8 400.3 459.0 403.9 459.2 401.2 459.4 403.4 459.6 401.9 459.8 403.9 460.0 402.1 460.2 401.0 460.4 404.6 460.6 406.8 460.8 404.6 461.0 404.0 461.2 401.3 461.4 403.5 461.6 404.6 461.8 402.1 462.0 405.6 462.2 403.4 462.4 404.2 462.6 402.3 462.8 402.2 463.0 403.8 463.2 404.1 463.4 404.0 463.6 400.9 463.8 401.6 464.0 403.2 464.2 399.1 464.4 405.7 464.6 404.1 464.8 403.5 465.0 401.8 465.2 405.3 465.4 402.9 465.6 407.8 465.8 404.5 466.0 400.2 466.2 405.3 466.4 402.5 466.6 402.5 466.8 403.2 467.0 403.5 467.2 404.4 467.4 405.5 467.6 404.9 467.8 402.2 468.0 400.8 468.2 402.1 468.4 404.8 468.6 406.0 468.8 408.1 469.0 401.0 469.2 404.3 469.4 403.6 469.6 403.2 469.8 404.5 470.0 403.6 470.2 403.6 470.4 402.8 470.6 405.2 470.8 406.7 471.0 408.1 471.2 402.6 471.4 400.8 471.6 402.0 471.8 400.1 472.0 403.8 472.2 399.0 472.4 400.4 472.6 396.6 472.8 398.3 473.0 399.0 473.2 401.4 473.4 395.8 473.6 397.6 473.8 391.0 474.0 392.1 474.2 392.0 474.4 391.8 474.6 392.9 474.8 392.4 475.0 386.3 475.2 390.3 475.4 385.5 475.6 391.4 475.8 387.6 476.0 387.7 476.2 387.4 476.4 388.3 476.6 388.8 476.8 387.7 477.0 391.5 477.2 390.9 477.4 392.5 477.6 391.1 477.8 393.3 478.0 390.5 478.2 400.9 478.4 391.5 478.6 392.6 478.8 396.0 479.0 396.8 479.2 392.3 479.4 390.5 479.6 391.3 479.8 392.4 480.0 393.1 480.2 394.7 480.4 397.6 480.6 397.9 480.8 394.1 481.0 397.0 481.2 397.9 481.4 399.3 481.6 395.9 481.8 394.7 482.0 398.3 482.2 400.2 482.4 395.7 482.6 401.6 482.8 401.2 483.0 396.8 483.2 394.0 483.4 396.4 483.6 397.2 483.8 399.3 484.0 394.5 484.2 404.0 484.4 404.0 484.6 397.1 484.8 394.7 485.0 398.7 485.2 400.3 485.4 402.5 485.6 401.2 485.8 399.3 486.0 395.5 486.2 401.3 486.4 402.2 486.6 399.7 486.8 401.2 487.0 401.2 487.2 400.4 487.4 398.5 487.6 402.0 487.8 398.2 488.0 404.8 488.2 399.7 488.4 403.1 488.6 400.4 488.8 403.1 489.0 402.0 489.2 403.8 489.4 401.0 489.6 399.2 489.8 402.5 490.0 402.5 490.2 400.0 490.4 402.0 490.6 400.0 490.8 404.2 491.0 403.2 491.2 404.3 491.4 410.3 491.6 405.0 491.8 405.7 492.0 406.4 492.2 404.9 492.4 404.1 492.6 407.6 492.8 408.2 493.0 399.5 493.2 405.9 493.4 405.7 493.6 405.4 493.8 409.6 494.0 405.8 494.2 409.2 494.4 406.2 494.6 406.7 494.8 409.5 495.0 406.4 495.2 407.9 495.4 405.9 495.6 406.6 495.8 410.4 496.0 410.3 496.2 406.7 496.4 406.8 496.6 415.3 496.8 408.4 497.0 408.1 497.2 411.4 497.4 408.7 497.6 409.8 497.8 412.8 498.0 413.3 498.2 410.8 498.4 414.4 498.6 411.3 498.8 411.3 499.0 412.0 499.2 411.5 499.4 413.5 499.6 413.1 499.8 410.8 500.0 413.1 500.2 411.7 500.4 411.7 500.6 412.8 500.8 415.6 501.0 414.0 501.2 416.4 501.4 417.2 501.6 413.8 501.8 412.7 502.0 412.4 502.2 414.9 502.4 416.4 502.6 418.1 502.8 411.8 503.0 416.9 503.2 417.4 503.4 420.6 503.6 415.7 503.8 415.4 504.0 412.2 504.2 414.0 504.4 413.4 504.6 413.8 504.8 414.2 505.0 412.9 505.2 416.3 505.4 417.5 505.6 418.4 505.8 416.7 506.0 419.4 506.2 419.6 506.4 414.0 506.6 416.9 506.8 414.9 507.0 415.6 507.2 418.3 507.4 417.8 507.6 421.4 507.8 422.9 508.0 419.4 508.2 418.1 508.4 418.3 508.6 418.7 508.8 420.1 509.0 417.3 509.2 420.3 509.4 418.6 509.6 421.6 509.8 422.4 510.0 423.3 510.2 419.2 510.4 416.7 510.6 416.0 510.8 419.2 511.0 416.8 511.2 416.4 511.4 419.4 511.6 418.1 511.8 421.9 512.0 424.7 512.2 420.1 512.4 421.3 512.6 417.3 512.8 421.3 513.0 419.4 513.2 418.6 513.4 417.1 513.6 424.8 513.8 417.8 514.0 418.8 514.2 421.6 514.4 422.3 514.6 422.4 514.8 422.1 515.0 420.0 515.2 423.7 515.4 422.6 515.6 419.1 515.8 425.9 516.0 421.7 516.2 424.6 516.4 419.5 516.6 420.2 516.8 421.6 517.0 421.4 517.2 425.2 517.4 419.5 517.6 423.5 517.8 421.0 518.0 424.4 518.2 423.8 518.4 422.2 518.6 428.3 518.8 423.4 519.0 426.0 519.2 420.8 519.4 423.5 519.6 424.0 519.8 424.2 520.0 423.2 520.2 422.2 520.4 417.3 520.6 422.9 520.8 422.2 521.0 423.7 521.2 426.2 521.4 429.3 521.6 425.7 521.8 426.8 522.0 426.0 522.2 426.3 522.4 426.1 522.6 424.3 522.8 424.2 523.0 425.7 523.2 429.0 523.4 426.9 523.6 428.7 523.8 422.5 524.0 425.9 524.2 426.3 524.4 426.6 524.6 422.6 524.8 421.6 525.0 421.0 525.2 424.8 525.4 430.9 525.6 426.3 525.8 423.2 526.0 426.6 526.2 425.3 526.4 426.4 526.6 425.1 526.8 423.3 527.0 425.0 527.2 427.8 527.4 426.9 527.6 429.0 527.8 424.0 528.0 428.7 528.2 426.6 528.4 427.0 528.6 429.3 528.8 426.4 529.0 427.3 529.2 428.1 529.4 428.2 529.6 428.6 529.8 429.7 530.0 428.1 530.2 426.1 530.4 432.4 530.6 427.1 530.8 428.0 531.0 425.6 531.2 422.6 531.4 425.7 531.6 427.5 531.8 428.6 532.0 427.5 532.2 429.1 532.4 429.5 532.6 429.5 532.8 427.3 533.0 427.5 533.2 426.8 533.4 425.3 533.6 430.3 533.8 424.5 534.0 427.0 534.2 427.6 534.4 422.4 534.6 428.6 534.8 426.2 535.0 427.4 535.2 426.2 535.4 423.6 535.6 427.3 535.8 427.1 536.0 429.0 536.2 427.8 536.4 423.1 536.6 429.1 536.8 428.4 537.0 428.3 537.2 427.6 537.4 425.0 537.6 427.7 537.8 425.7 538.0 432.7 538.2 425.9 538.4 424.0 538.6 425.6 538.8 429.4 539.0 425.0 539.2 420.9 539.4 429.4 539.6 426.8 539.8 424.9 540.0 427.4 540.2 423.7 540.4 423.0 540.6 427.5 540.8 424.1 541.0 426.2 541.2 425.0 541.4 426.6 541.6 424.9 541.8 420.0 542.0 425.8 542.2 423.1 542.4 426.0 542.6 424.1 542.8 426.8 543.0 422.9 543.2 418.9 543.4 422.6 543.6 424.3 543.8 422.2 544.0 421.8 544.2 425.9 544.4 422.2 544.6 424.7 544.8 422.4 545.0 418.5 545.2 419.3 545.4 420.3 545.6 421.3 545.8 418.5 546.0 416.8 546.2 417.3 546.4 418.0 546.6 416.9 546.8 417.2 547.0 422.2 547.2 418.4 547.4 415.6 547.6 417.0 547.8 420.2 548.0 418.1 548.2 416.3 548.4 413.5 548.6 412.7 548.8 415.6 549.0 416.1 549.2 412.7 549.4 413.2 549.6 416.1 549.8 411.2 550.0 412.2 550.2 415.9 550.4 417.2 550.6 416.6 550.8 418.0 551.0 419.2 551.2 417.7 551.4 415.0 551.6 420.3 551.8 419.2 552.0 417.5 552.2 413.6 552.4 416.3 552.6 410.8 552.8 414.7 553.0 409.9 553.2 414.6 553.4 417.8 553.6 415.6 553.8 419.1 554.0 415.6 554.2 415.8 554.4 414.9 554.6 416.8 554.8 415.6 555.0 418.3 555.2 419.3 555.4 416.5 555.6 413.2 555.8 417.0 556.0 418.8 556.2 417.2 556.4 416.5 556.6 417.9 556.8 418.8 557.0 410.1 557.2 419.3 557.4 417.6 557.6 417.0 557.8 414.7 558.0 416.5 558.2 417.3 558.4 412.7 558.6 417.8 558.8 416.5 559.0 419.8 559.2 418.2 559.4 416.5 559.6 417.3 559.8 418.8 560.0 417.9 560.2 418.9 560.4 416.4 560.6 415.4 560.8 417.1 561.0 415.4 561.2 417.0 561.4 419.7 561.6 415.5 561.8 416.6 562.0 421.2 562.2 418.6 562.4 419.9 562.6 417.4 562.8 418.0 563.0 419.9 563.2 424.3 563.4 421.9 563.6 417.5 563.8 422.3 564.0 423.5 564.2 423.2 564.4 419.2 564.6 421.9 564.8 426.8 565.0 420.3 565.2 423.3 565.4 421.1 565.6 420.1 565.8 422.1 566.0 425.5 566.2 426.0 566.4 421.7 566.6 422.7 566.8 422.0 567.0 419.6 567.2 425.6 567.4 427.9 567.6 427.9 567.8 423.8 568.0 427.9 568.2 427.6 568.4 424.6 568.6 425.5 568.8 424.9 569.0 426.3 569.2 429.9 569.4 424.0 569.6 423.6 569.8 428.2 570.0 426.5 570.2 422.4 570.4 424.4 570.6 424.9 570.8 425.5 571.0 427.6 571.2 429.2 571.4 426.8 571.6 427.6 571.8 425.8 572.0 429.7 572.2 430.5 572.4 427.2 572.6 426.2 572.8 432.5 573.0 430.1 573.2 426.3 573.4 424.6 573.6 427.8 573.8 431.1 574.0 427.5 574.2 428.2 574.4 427.8 574.6 430.4 574.8 432.1 575.0 426.5 575.2 428.7 575.4 429.0 575.6 428.2 575.8 427.1 576.0 431.6 576.2 430.2 576.4 431.6 576.6 433.4 576.8 429.4 577.0 431.5 577.2 429.6 577.4 430.4 577.6 431.4 577.8 430.4 578.0 427.5 578.2 434.1 578.4 431.2 578.6 428.4 578.8 426.1 579.0 430.9 579.2 432.4 579.4 433.2 579.6 433.5 579.8 430.3 580.0 432.5 580.2 427.8 580.4 431.5 580.6 433.2 580.8 430.0 581.0 431.0 581.2 431.6 581.4 431.7 581.6 434.5 581.8 428.9 582.0 434.1 582.2 428.4 582.4 429.6 582.6 429.3 582.8 430.7 583.0 429.7 583.2 431.8 583.4 430.7 583.6 435.3 583.8 431.3 584.0 429.9 584.2 431.1 584.4 431.5 584.6 429.8 584.8 427.7 585.0 428.3 585.2 430.3 585.4 431.7 585.6 430.8 585.8 429.5 586.0 430.9 586.2 428.5 586.4 430.1 586.6 432.7 586.8 432.2 587.0 432.8 587.2 429.2 587.4 430.6 587.6 428.1 587.8 432.4 588.0 429.7 588.2 427.9 588.4 429.8 588.6 431.5 588.8 426.4 589.0 428.2 589.2 433.5 589.4 431.8 589.6 431.6 589.8 428.4 590.0 435.4 590.2 434.3 590.4 433.7 590.6 430.0 590.8 433.8 591.0 435.1 591.2 432.1 591.4 432.4 591.6 432.0 591.8 434.5 592.0 432.8 592.2 432.8 592.4 430.5 592.6 430.2 592.8 435.9 593.0 437.4 593.2 435.9 593.4 437.2 593.6 433.1 593.8 434.3 594.0 435.3 594.2 434.2 594.4 438.3 594.6 431.9 594.8 433.7 595.0 434.2 595.2 433.6 595.4 437.0 595.6 431.0 595.8 437.8 596.0 437.4 596.2 436.3 596.4 438.7 596.6 440.8 596.8 436.3 597.0 437.6 597.2 437.0 597.4 437.3 597.6 435.2 597.8 434.9 598.0 437.8 598.2 435.5 598.4 438.7 598.6 438.5 598.8 436.0 599.0 437.8 599.2 437.3 599.4 436.8 599.6 439.6 599.8 437.2 600.0 437.7 600.2 433.1 600.4 438.5 600.6 434.1 600.8 436.4 601.0 440.7 601.2 441.1 601.4 436.4 601.6 434.6 601.8 438.1 602.0 436.5 602.2 438.0 602.4 434.5 602.6 439.7 602.8 440.7 603.0 434.3 603.2 435.8 603.4 435.9 603.6 439.0 603.8 433.3 604.0 437.9 604.2 437.0 604.4 435.8 604.6 439.0 604.8 433.4 605.0 434.6 605.2 435.9 605.4 439.1 605.6 436.8 605.8 435.8 606.0 438.6 606.2 436.6 606.4 436.3 606.6 437.0 606.8 438.4 607.0 443.4 607.2 435.4 607.4 438.3 607.6 437.4 607.8 437.2 608.0 441.0 608.2 439.0 608.4 438.4 608.6 435.6 608.8 434.4 609.0 436.4 609.2 434.8 609.4 433.8 609.6 436.1 609.8 431.6 610.0 432.3 610.2 435.1 610.4 432.9 610.6 434.1 610.8 430.4 611.0 433.4 611.2 430.0 611.4 433.8 611.6 432.0 611.8 430.7 612.0 432.4 612.2 429.2 612.4 426.5 612.6 430.6 612.8 427.4 613.0 428.6 613.2 425.7 613.4 427.3 613.6 422.3 613.8 420.8 614.0 419.9 614.2 424.0 614.4 417.7 614.6 418.1 614.8 418.8 615.0 422.4 615.2 422.8 615.4 420.0 615.6 423.5 615.8 422.4 616.0 424.3 616.2 423.7 616.4 420.1 616.6 422.0 616.8 421.2 617.0 422.5 617.2 421.9 617.4 421.5 617.6 422.9 617.8 421.5 618.0 422.9 618.2 421.3 618.4 420.9 618.6 423.2 618.8 423.2 619.0 423.8 619.2 422.4 619.4 420.6 619.6 421.4 619.8 421.3 620.0 417.0 620.2 418.4 620.4 424.2 620.6 420.7 620.8 414.6 621.0 420.6 621.2 421.4 621.4 418.4 621.6 426.2 621.8 423.8 622.0 423.2 622.2 421.1 622.4 422.7 622.6 423.6 622.8 422.8 623.0 420.4 623.2 422.4 623.4 422.4 623.6 422.8 623.8 420.0 624.0 423.0 624.2 422.5 624.4 423.1 624.6 423.1 624.8 419.6 625.0 424.7 625.2 424.6 625.4 420.1 625.6 423.0 625.8 421.5 626.0 422.8 626.2 426.3 626.4 425.6 626.6 429.1 626.8 425.4 627.0 423.1 627.2 426.1 627.4 420.9 627.6 430.4 627.8 427.5 628.0 428.3 628.2 428.0 628.4 426.2 628.6 428.1 628.8 427.0 629.0 428.0 629.2 430.1 629.4 427.2 629.6 433.6 629.8 427.9 630.0 432.1 630.2 429.1 630.4 427.9 630.6 431.5 630.8 431.1 631.0 430.4 631.2 430.9 631.4 429.8 631.6 432.1 631.8 430.3 632.0 431.5 632.2 433.9 632.4 428.8 632.6 430.6 632.8 430.5 633.0 430.3 633.2 429.3 633.4 431.7 633.6 432.7 633.8 432.2 634.0 429.2 634.2 434.2 634.4 434.3 634.6 433.1 634.8 430.9 635.0 431.4 635.2 437.5 635.4 437.1 635.6 434.6 635.8 431.7 636.0 436.5 636.2 434.4 636.4 437.7 636.6 433.1 636.8 435.5 637.0 434.3 637.2 436.5 637.4 433.7 637.6 437.2 637.8 434.6 638.0 433.8 638.2 437.0 638.4 436.5 638.6 431.7 638.8 436.3 639.0 436.8 639.2 437.1 639.4 441.3 639.6 435.7 639.8 437.3 640.0 433.9 640.2 434.6 640.4 436.6 640.6 437.8 640.8 437.8 641.0 439.7 641.2 440.1 641.4 440.9 641.6 438.6 641.8 440.2 642.0 437.8 642.2 440.3 642.4 440.7 642.6 438.8 642.8 433.3 643.0 438.9 643.2 445.9 643.4 440.4 643.6 439.4 643.8 441.1 644.0 443.4 644.2 441.9 644.4 440.9 644.6 438.8 644.8 441.0 645.0 439.3 645.2 442.7 645.4 445.3 645.6 444.5 645.8 441.2 646.0 440.5 646.2 439.8 646.4 443.8 646.6 444.2 646.8 444.8 647.0 444.0 647.2 440.9 647.4 439.6 647.6 446.1 647.8 442.1 648.0 448.0 648.2 439.8 648.4 442.0 648.6 442.5 648.8 445.1 649.0 446.0 649.2 443.5 649.4 446.0 649.6 442.1 649.8 443.9 650.0 442.4 650.2 443.9 650.4 443.8 650.6 445.8 650.8 452.5 651.0 442.5 651.2 445.0 651.4 446.9 651.6 445.7 651.8 448.6 652.0 443.5 652.2 447.4 652.4 444.2 652.6 447.6 652.8 446.3 653.0 446.6 653.2 444.9 653.4 442.3 653.6 444.0 653.8 447.8 654.0 445.9 654.2 448.0 654.4 443.8" fill="none" stroke="#000" stroke-width="2.4" stroke-linejoin="round"/>
<path d="M91.7 917.2 91.9 913.9 92.1 918.2 92.3 914.5 92.5 930.2 92.7 934.0 93.0 938.2 93.2 946.6 93.4 952.1 93.6 951.4 93.8 957.2 94.0 969.5 94.2 970.9 94.4 971.3 94.6 965.0 94.8 966.6 95.1 974.4 95.3 978.4 95.5 973.2 95.7 971.6 95.9 979.2 96.1 974.7 96.3 979.5 96.5 983.4 96.7 980.8 96.9 979.6 97.2 982.3 97.4 976.2 97.6 976.9 97.8 974.4 98.0 974.7 98.2 972.6 98.4 972.7 98.6 971.0 98.8 971.7 99.0 970.6 99.3 970.4 99.5 973.6 99.7 961.4 99.9 971.1 100.1 964.3 100.3 959.3 100.5 962.1 100.7 961.8 100.9 964.3 101.1 954.9 101.4 958.5 101.6 956.8 101.8 948.6 102.0 949.3 102.2 954.9 102.4 954.0 102.6 954.2 102.8 950.8 103.0 949.0 103.2 946.5 103.5 948.7 103.7 938.6 103.9 939.3 104.1 939.3 104.3 929.5 104.5 938.9 104.7 928.4 104.9 929.2 105.1 936.1 105.3 922.1 105.6 921.2 105.8 927.6 106.0 914.9 106.2 915.4 106.4 915.4 106.6 909.2 106.8 903.8 107.0 897.0 107.2 895.1 107.4 887.8 107.7 880.1 107.9 868.7 108.1 862.6 108.3 851.4 108.5 856.8 108.7 839.8 108.9 845.8 109.1 844.2 109.3 824.8 109.5 818.8 109.8 812.0 110.0 810.3 110.2 794.8 110.4 790.4 110.6 780.9 110.8 774.8 111.0 781.1 111.2 769.4 111.4 781.2 111.6 773.2 111.9 775.1 112.1 763.9 112.3 774.3 112.5 770.0 112.7 771.1 112.9 766.5 113.1 761.6 113.3 772.5 113.5 780.0 113.7 779.6 114.0 782.5 114.2 794.5 114.4 799.7 114.6 792.5 114.8 805.0 115.0 788.4 115.2 789.9 115.4 805.1 115.6 801.6 115.8 807.1 116.1 808.5 116.3 807.4 116.5 812.7 116.7 811.9 116.9 805.9 117.1 815.6 117.3 817.1 117.5 826.4 117.7 814.5 117.9 821.5 118.2 821.1 118.4 824.2 118.6 833.7 118.8 829.3 119.0 826.9 119.2 831.5 119.4 835.2 119.6 828.7 119.8 833.3 120.0 842.8 120.3 841.1 120.5 838.5 120.7 837.9 120.9 840.8 121.1 836.0 121.3 848.4 121.5 847.1 121.7 847.6 121.9 842.7 122.1 846.6 122.4 853.4 122.6 853.7 122.8 851.8 123.0 857.5 123.2 860.4 123.4 854.3 123.6 855.9 123.8 855.4 124.0 855.1 124.2 864.6 124.5 864.3 124.7 864.5 124.9 858.9 125.1 860.4 125.3 865.6 125.5 865.0 125.7 868.3 125.9 865.7 126.1 872.5 126.3 878.4 126.6 878.3 126.8 879.5 127.0 873.8 127.2 878.4 127.4 873.8 127.6 880.3 127.8 875.7 128.0 876.2 128.2 876.5 128.4 883.2 128.7 882.3 128.9 882.9 129.1 878.1 129.3 884.0 129.5 877.8 129.7 890.7 129.9 884.4 130.1 886.3 130.3 885.6 130.5 879.9 130.8 881.3 131.0 887.5 131.2 894.4 131.4 884.0 131.6 886.2 131.8 889.5 132.0 883.1 132.2 890.8 132.4 889.5 132.6 891.6 132.9 890.7 133.1 899.3 133.3 892.7 133.5 895.4 133.7 901.1 133.9 902.1 134.1 888.8 134.3 894.4 134.5 901.4 134.7 891.3 135.0 893.7 135.2 892.6 135.4 892.6 135.6 893.8 135.8 899.6 136.0 904.4 136.2 905.7 136.4 899.7 136.6 891.8 136.8 900.0 137.1 899.1 137.3 902.2 137.5 900.5 137.7 893.9 137.9 903.3 138.1 893.3 138.3 899.3 138.5 903.7 138.7 904.2 138.9 909.5 139.2 893.5 139.4 905.0 139.6 906.7 139.8 902.4 140.0 905.8 140.2 898.1 140.4 904.8 140.6 903.7 140.8 896.8 141.0 897.6 141.3 899.0 141.5 896.5 141.7 903.0 141.9 898.8 142.1 903.0 142.3 901.8 142.5 896.6 142.7 895.0 142.9 891.3 143.1 891.3 143.4 890.7 143.6 895.0 143.8 889.2 144.0 892.7 144.2 892.6 144.4 888.6 144.6 888.8 144.8 894.6 145.0 894.2 145.2 882.9 145.5 884.3 145.7 882.5 145.9 881.8 146.1 888.3 146.3 883.6 146.5 885.0 146.7 886.1 146.9 875.5 147.1 875.5 147.3 875.3 147.6 878.5 147.8 872.6 148.0 874.6 148.2 875.8 148.4 874.6 148.6 870.4 148.8 864.0 149.0 860.0 149.2 870.8 149.4 867.2 149.7 860.4 149.9 861.6 150.1 861.1 150.3 855.0 150.5 862.6 150.7 857.4 150.9 858.8 151.1 862.6 151.3 858.2 151.5 860.2 151.8 859.0 152.0 857.0 152.2 857.0 152.4 864.8 152.6 855.7 152.8 863.5 153.0 852.2 153.2 859.2 153.4 856.7 153.6 852.6 153.9 844.0 154.1 865.6 154.3 850.3 154.5 851.0 154.7 855.6 154.9 856.0 155.1 858.5 155.3 857.6 155.5 853.6 155.7 865.4 156.0 859.2 156.2 865.6 156.4 868.5 156.6 872.6 156.8 868.1 157.0 869.2 157.2 870.9 157.4 865.5 157.6 871.6 157.8 872.1 158.1 873.2 158.3 880.7 158.5 880.5 158.7 890.4 158.9 891.8 159.1 879.3 159.3 889.6 159.5 886.8 159.7 895.1 159.9 895.3 160.2 900.4 160.4 899.6 160.6 903.3 160.8 900.8 161.0 893.5 161.2 900.8 161.4 904.0 161.6 907.3 161.8 907.0 162.0 919.7 162.3 914.2 162.5 921.9 162.7 916.9 162.9 926.6 163.1 916.7 163.3 925.7 163.5 919.5 163.7 928.3 163.9 934.5 164.1 923.3 164.4 928.0 164.6 934.1 164.8 934.0 165.0 931.0 165.2 942.6 165.4 939.9 165.6 945.7 165.8 942.2 166.0 936.8 166.2 939.8 166.5 947.5 166.7 936.9 166.9 940.9 167.1 945.4 167.3 947.4 167.5 947.0 167.7 938.4 167.9 952.7 168.1 944.2 168.3 945.3 168.6 945.6 168.8 945.0 169.0 942.5 169.2 945.4 169.4 952.2 169.6 942.0 169.8 938.2 170.0 949.9 170.2 947.9 170.4 948.2 170.7 950.9 170.9 940.0 171.1 942.4 171.3 942.4 171.5 944.1 171.7 942.0 171.9 933.4 172.1 930.0 172.3 933.2 172.5 926.6 172.8 935.5 173.0 929.0 173.2 928.7 173.4 927.5 173.6 938.1 173.8 934.1 174.0 932.2 174.2 937.2 174.4 935.3 174.6 938.9 174.9 942.7 175.1 937.4 175.3 941.4 175.5 942.1 175.7 945.6 175.9 944.4 176.1 943.1 176.3 941.4 176.5 946.0 176.7 941.7 177.0 949.3 177.2 947.8 177.4 950.7 177.6 947.4 177.8 947.0 178.0 947.3 178.2 955.8 178.4 951.4 178.6 952.0 178.8 946.7 179.1 954.1 179.3 941.7 179.5 961.0 179.7 955.5 179.9 957.2 180.1 952.3 180.3 954.3 180.5 961.5 180.7 959.1 180.9 962.2 181.2 966.1 181.4 964.5 181.6 955.4 181.8 959.6 182.0 959.7 182.2 961.3 182.4 957.1 182.6 957.6 182.8 962.9 183.0 963.8 183.3 968.4 183.5 965.5 183.7 972.5 183.9 960.5 184.1 962.5 184.3 969.0 184.5 967.4 184.7 965.0 184.9 975.1 185.1 973.5 185.4 974.7 185.6 968.6 185.8 970.4 186.0 971.6 186.2 971.3 186.4 975.3 186.6 969.9 186.8 973.5 187.0 964.1 187.2 975.6 187.5 979.3 187.7 973.4 187.9 977.7 188.1 967.9 188.3 973.2 188.5 969.0 188.7 976.4 188.9 977.5 189.1 970.7 189.3 973.0 189.6 974.3 189.8 985.9 190.0 976.1 190.2 976.1 190.4 976.4 190.6 975.5 190.8 972.8 191.0 968.0 191.2 969.8 191.4 977.9 191.7 972.0 191.9 969.0 192.1 964.7 192.3 968.9 192.5 968.6 192.7 965.3 192.9 970.5 193.1 964.2 193.3 965.2 193.5 968.4 193.8 964.6 194.0 964.9 194.2 956.5 194.4 952.6 194.6 952.9 194.8 948.7 195.0 950.6 195.2 946.7 195.4 944.1 195.6 945.1 195.9 945.0 196.1 937.1 196.3 936.0 196.5 938.4 196.7 943.6 196.9 936.1 197.1 941.3 197.3 931.2 197.5 936.5 197.7 942.1 198.0 938.0 198.2 944.7 198.4 933.4 198.6 942.6 198.8 944.3 199.0 944.4 199.2 940.1 199.4 949.8 199.6 939.3 199.8 953.2 200.1 951.8 200.3 955.7 200.5 951.8 200.7 948.9 200.9 951.7 201.1 954.2 201.3 957.0 201.5 953.9 201.7 957.2 201.9 957.9 202.2 962.0 202.4 949.3 202.6 955.9 202.8 960.6 203.0 961.1 203.2 956.7 203.4 958.4 203.6 959.5 203.8 960.8 204.0 958.6 204.3 958.8 204.5 957.5 204.7 960.7 204.9 968.0 205.1 959.5 205.3 967.3 205.5 971.5 205.7 965.3 205.9 974.0 206.1 965.0 206.4 972.3 206.6 966.2 206.8 961.9 207.0 968.0 207.2 974.1 207.4 964.9 207.6 969.1 207.8 963.7 208.0 964.3 208.2 969.5 208.5 967.3 208.7 970.3 208.9 973.2 209.1 964.1 209.3 966.1 209.5 969.1 209.7 970.4 209.9 968.0 210.1 967.6 210.3 971.3 210.6 977.8 210.8 967.8 211.0 969.0 211.2 970.5 211.4 973.6 211.6 978.9 211.8 966.2 212.0 964.8 212.2 971.9 212.4 973.5 212.7 963.2 212.9 969.5 213.1 975.6 213.3 970.2 213.5 974.2 213.7 973.2 213.9 975.2 214.1 974.5 214.3 974.1 214.5 977.9 214.8 971.3 215.0 974.1 215.2 978.0 215.4 971.9 215.6 972.8 215.8 971.5 216.0 971.0 216.2 982.3 216.4 976.6 216.6 982.1 216.9 978.0 217.1 975.7 217.3 974.5 217.5 976.8 217.7 975.8 217.9 979.5 218.1 973.0 218.3 977.1 218.5 978.4 218.7 976.0 219.0 976.1 219.2 979.2 219.4 979.4 219.6 977.1 219.8 977.6 220.0 975.8 220.2 980.1 220.4 977.8 220.6 972.6 220.8 977.4 221.1 981.0 221.3 979.9 221.5 975.8 221.7 982.0 221.9 981.6 222.1 981.8 222.3 985.4 222.5 978.7 222.7 982.3 222.9 979.3 223.2 984.1 223.4 984.9 223.6 982.5 223.8 983.7 224.0 978.1 224.2 983.5 224.4 977.0 224.6 989.6 224.8 986.0 225.0 976.3 225.3 972.4 225.5 987.3 225.7 979.5 225.9 984.9 226.1 978.4 226.3 983.7 226.5 981.2 226.7 986.1 226.9 982.9 227.1 989.8 227.4 981.8 227.6 989.5 227.8 985.0 228.0 987.2 228.2 979.7 228.4 979.3 228.6 989.9 228.8 981.7 229.0 985.3 229.2 985.6 229.5 983.7 229.7 988.0 229.9 982.3 230.1 983.3 230.3 991.3 230.5 985.2 230.7 991.2 230.9 991.1 231.1 1005.4 231.3 990.8 231.6 982.7 231.8 987.3 232.0 988.4 232.2 994.6 232.4 991.6 232.6 988.8 232.8 992.5 233.0 989.8 233.2 993.4 233.4 992.2 233.7 995.9 233.9 993.3 234.1 996.0 234.3 992.6 234.5 995.5 234.7 992.7 234.9 995.8 235.1 994.6 235.3 993.6 235.5 992.8 235.8 993.6 236.0 996.6 236.2 986.9 236.4 1000.0 236.6 987.2 236.8 995.3 237.0 995.1 237.2 999.3 237.4 997.7 237.6 997.0 237.9 997.7 238.1 1001.1 238.3 1006.5 238.5 999.6 238.7 991.1 238.9 997.3 239.1 1000.6 239.3 1011.4 239.5 996.9 239.7 998.6 240.0 1002.3 240.2 1001.7 240.4 996.1 240.6 1004.5 240.8 996.7 241.0 1000.7 241.2 1006.7 241.4 997.5 241.6 1001.3 241.8 1008.8 242.1 1002.1 242.3 999.6 242.5 1001.6 242.7 1006.9 242.9 998.6 243.1 1002.1 243.3 999.3 243.5 1000.5 243.7 1009.4 243.9 1004.6 244.2 1003.5 244.4 1006.8 244.6 1002.8 244.8 1001.2 245.0 1009.8 245.2 1009.0 245.4 1003.0 245.6 1008.6 245.8 1011.5 246.0 1008.2 246.3 1008.3 246.5 1002.3 246.7 1006.4 246.9 1000.3 247.1 1011.1 247.3 1006.7 247.5 1012.2 247.7 1004.8 247.9 1006.9 248.1 1002.2 248.4 1006.6 248.6 1010.1 248.8 1009.6 249.0 1008.3 249.2 1002.8 249.4 1013.5 249.6 1011.3 249.8 1013.1 250.0 1013.2 250.2 1008.0 250.5 1010.9 250.7 1019.0 250.9 1006.7 251.1 1011.3 251.3 1008.0 251.5 1016.3 251.7 1010.8 251.9 1006.6 252.1 1008.3 252.3 1005.6 252.6 1002.6 252.8 1001.2 253.0 1008.4 253.2 1007.1 253.4 1011.8 253.6 1008.4 253.8 1012.3 254.0 1017.9 254.2 1007.5 254.4 1007.5 254.7 1015.5 254.9 1020.5 255.1 1009.1 255.3 1006.3 255.5 1011.4 255.7 1008.6 255.9 1015.3 256.1 1009.1 256.3 1012.0 256.5 1012.0 256.8 1007.6 257.0 1007.7 257.2 1015.1 257.4 1015.3 257.6 1010.3 257.8 1018.6 258.0 1016.2 258.2 1014.3 258.4 1014.7 258.6 1013.6 258.9 1014.7 259.1 1015.1 259.3 1012.1 259.5 1004.3 259.7 1010.9 259.9 1008.3 260.1 1006.9 260.3 1013.1 260.5 1004.4 260.7 1013.6 261.0 1008.2 261.2 1005.9 261.4 1007.0 261.6 1018.4 261.8 1015.1 262.0 1008.6 262.2 1013.3 262.4 1015.7 262.6 1006.0 262.8 1007.9 263.1 1012.1 263.3 1010.0 263.5 1007.1 263.7 1014.1 263.9 1009.9 264.1 1010.8 264.3 1016.4 264.5 1009.4 264.7 1017.1 264.9 1008.5 265.2 1006.7 265.4 1007.6 265.6 1010.2 265.8 1009.3 266.0 1008.1 266.2 1001.2 266.4 1002.5 266.6 1005.4 266.8 1008.9 267.0 1011.4 267.3 997.3 267.5 1005.3 267.7 1004.1 267.9 1005.2 268.1 1006.2 268.3 1002.2 268.5 1000.4 268.7 1008.8 268.9 1007.7 269.1 1003.3 269.4 1004.3 269.6 1002.1 269.8 999.3 270.0 1006.7 270.2 1001.8 270.4 1000.0 270.6 1001.8 270.8 1009.8 271.0 1005.3 271.2 1004.4 271.5 1003.8 271.7 1006.3 271.9 1005.5 272.1 997.6 272.3 1001.2 272.5 999.3 272.7 1002.1 272.9 1000.7 273.1 993.2 273.3 1004.4 273.6 1000.8 273.8 993.1 274.0 1003.3 274.2 999.2 274.4 1000.1 274.6 998.1 274.8 998.2 275.0 995.4 275.2 990.7 275.4 994.2 275.7 996.8 275.9 995.9 276.1 997.8 276.3 994.6 276.5 986.3 276.7 997.0 276.9 990.9 277.1 988.5 277.3 991.8 277.5 987.0 277.8 992.4 278.0 986.7 278.2 996.4 278.4 987.3 278.6 985.2 278.8 983.9 279.0 975.9 279.2 981.2 279.4 980.6 279.6 981.3 279.9 973.2 280.1 980.8 280.3 984.6 280.5 977.1 280.7 977.6 280.9 978.5 281.1 973.0 281.3 973.6 281.5 978.1 281.7 974.4 282.0 968.1 282.2 965.2 282.4 980.0 282.6 972.1 282.8 963.5 283.0 969.3 283.2 970.5 283.4 967.6 283.6 959.0 283.8 973.1 284.1 968.4 284.3 965.3 284.5 968.7 284.7 965.2 284.9 964.8 285.1 969.6 285.3 958.5 285.5 970.0 285.7 967.7 285.9 969.1 286.2 969.7 286.4 972.2 286.6 971.8 286.8 969.6 287.0 964.7 287.2 968.9 287.4 964.4 287.6 962.5 287.8 968.0 288.0 967.6 288.3 970.9 288.5 960.3 288.7 968.6 288.9 968.7 289.1 966.3 289.3 971.4 289.5 962.1 289.7 966.6 289.9 963.6 290.1 964.8 290.4 960.9 290.6 963.9 290.8 966.9 291.0 964.5 291.2 965.2 291.4 960.7 291.6 969.6 291.8 960.5 292.0 963.1 292.2 965.1 292.5 961.9 292.7 965.3 292.9 962.9 293.1 968.6 293.3 963.9 293.5 963.1 293.7 958.2 293.9 962.9 294.1 964.8 294.3 962.3 294.6 956.8 294.8 958.0 295.0 958.9 295.2 959.6 295.4 953.8 295.6 966.1 295.8 958.1 296.0 958.7 296.2 956.2 296.4 957.4 296.7 964.7 296.9 953.2 297.1 954.6 297.3 952.2 297.5 953.8 297.7 961.6 297.9 952.9 298.1 953.2 298.3 947.6 298.5 953.0 298.8 954.9 299.0 951.8 299.2 951.9 299.4 956.2 299.6 954.8 299.8 952.1 300.0 949.1 300.2 945.9 300.4 958.0 300.6 945.0 300.9 953.2 301.1 949.5 301.3 947.1 301.5 953.0 301.7 946.3 301.9 953.8 302.1 944.4 302.3 950.0 302.5 952.7 302.7 943.5 303.0 955.2 303.2 949.9 303.4 937.5 303.6 951.3 303.8 953.0 304.0 944.0 304.2 943.9 304.4 945.8 304.6 936.4 304.8 944.2 305.1 946.9 305.3 940.6 305.5 946.8 305.7 950.8 305.9 933.9 306.1 934.1 306.3 938.1 306.5 943.1 306.7 941.7 306.9 936.1 307.2 934.9 307.4 936.1 307.6 945.4 307.8 934.6 308.0 935.7 308.2 941.5 308.4 936.3 308.6 933.1 308.8 942.4 309.0 937.7 309.3 933.3 309.5 934.2 309.7 939.1 309.9 933.6 310.1 935.7 310.3 937.9 310.5 938.0 310.7 926.3 310.9 931.4 311.1 931.7 311.4 933.1 311.6 935.5 311.8 936.8 312.0 929.9 312.2 927.0 312.4 931.9 312.6 928.3 312.8 937.4 313.0 931.5 313.2 930.0 313.5 933.4 313.7 926.5 313.9 927.4 314.1 927.7 314.3 930.7 314.5 933.0 314.7 930.6 314.9 930.2 315.1 925.9 315.3 927.9 315.6 925.2 315.8 930.4 316.0 922.9 316.2 924.8 316.4 925.7 316.6 927.6 316.8 921.1 317.0 922.8 317.2 920.1 317.4 910.7 317.7 927.1 317.9 924.2 318.1 915.9 318.3 917.7 318.5 923.6 318.7 918.5 318.9 916.4 319.1 925.4 319.3 918.0 319.5 918.1 319.8 921.6 320.0 916.1 320.2 918.7 320.4 918.9 320.6 921.0 320.8 914.6 321.0 921.7 321.2 918.3 321.4 923.9 321.6 917.2 321.9 913.6 322.1 913.1 322.3 910.2 322.5 914.4 322.7 913.6 322.9 917.1 323.1 913.3 323.3 909.0 323.5 916.2 323.7 909.7 324.0 912.1 324.2 916.6 324.4 915.3 324.6 906.6 324.8 908.7 325.0 914.2 325.2 912.3 325.4 910.0 325.6 910.9 325.8 897.8 326.1 905.1 326.3 899.8 326.5 902.7 326.7 903.2 326.9 906.3 327.1 908.7 327.3 906.6 327.5 904.0 327.7 900.9 327.9 907.1 328.2 897.6 328.4 893.3 328.6 899.9 328.8 901.7 329.0 895.1 329.2 899.5 329.4 904.4 329.6 896.4 329.8 896.7 330.0 896.2 330.3 891.8 330.5 893.3 330.7 890.5 330.9 893.0 331.1 890.3 331.3 897.2 331.5 892.1 331.7 895.7 331.9 886.2 332.1 890.9 332.4 892.9 332.6 892.9 332.8 886.8 333.0 888.5 333.2 888.8 333.4 886.6 333.6 886.0 333.8 889.7 334.0 882.1 334.2 879.1 334.5 884.5 334.7 887.5 334.9 876.2 335.1 891.4 335.3 885.8 335.5 887.6 335.7 881.2 335.9 884.3 336.1 892.0 336.3 891.8 336.6 883.8 336.8 882.1 337.0 882.5 337.2 888.3 337.4 879.3 337.6 878.5 337.8 882.3 338.0 887.2 338.2 879.2 338.4 885.7 338.7 886.2 338.9 885.7 339.1 884.9 339.3 889.9 339.5 888.9 339.7 880.6 339.9 894.1 340.1 889.6 340.3 889.5 340.5 887.0 340.8 887.7 341.0 878.7 341.2 888.9 341.4 892.8 341.6 893.3 341.8 888.3 342.0 882.0 342.2 888.0 342.4 892.3 342.6 899.9 342.9 888.5 343.1 896.2 343.3 899.5 343.5 900.4 343.7 898.3 343.9 887.8 344.1 902.9 344.3 901.7 344.5 904.3 344.7 898.9 345.0 901.7 345.2 910.8 345.4 905.0 345.6 905.6 345.8 902.8 346.0 911.3 346.2 899.4 346.4 904.2 346.6 908.4 346.8 906.6 347.1 910.7 347.3 908.9 347.5 913.4 347.7 906.6 347.9 907.2 348.1 909.1 348.3 900.7 348.5 914.2 348.7 904.7 348.9 913.4 349.2 914.9 349.4 913.3 349.6 910.1 349.8 906.9 350.0 900.8 350.2 912.2 350.4 909.1 350.6 917.3 350.8 909.0 351.0 913.0 351.3 908.8 351.5 912.4 351.7 909.3 351.9 910.1 352.1 903.1 352.3 908.1 352.5 910.5 352.7 916.5 352.9 912.5 353.1 906.4 353.4 918.1 353.6 913.1 353.8 916.4 354.0 908.1 354.2 898.3 354.4 908.9 354.6 907.9 354.8 913.4 355.0 906.0 355.2 908.8 355.5 906.9 355.7 913.3 355.9 909.0 356.1 918.7 356.3 916.3 356.5 916.7 356.7 912.4 356.9 914.4 357.1 917.1 357.3 910.1 357.6 918.9 357.8 913.5 358.0 919.2 358.2 923.4 358.4 920.7 358.6 909.8 358.8 919.4 359.0 913.2 359.2 912.7 359.4 913.5 359.7 909.7 359.9 915.6 360.1 911.6 360.3 919.3 360.5 916.0 360.7 903.9 360.9 910.7 361.1 910.5 361.3 911.9 361.5 912.0 361.8 915.6 362.0 914.1 362.2 910.3 362.4 916.7 362.6 918.6 362.8 914.9 363.0 919.8 363.2 916.7 363.4 912.7 363.6 913.4 363.9 915.1 364.1 917.3 364.3 915.8 364.5 919.2 364.7 919.9 364.9 911.2 365.1 911.0 365.3 915.7 365.5 918.4 365.7 920.6 366.0 919.9 366.2 920.2 366.4 914.2 366.6 920.0 366.8 916.2 367.0 920.9 367.2 923.3 367.4 917.2 367.6 919.4 367.8 930.8 368.1 918.1 368.3 919.5 368.5 917.5 368.7 916.4 368.9 926.7 369.1 920.3 369.3 920.6 369.5 920.0 369.7 911.9 369.9 926.5 370.2 921.3 370.4 923.4 370.6 929.3 370.8 923.2 371.0 924.4 371.2 924.7 371.4 929.2 371.6 918.7 371.8 921.9 372.0 915.5 372.3 924.5 372.5 927.1 372.7 922.9 372.9 932.8 373.1 928.8 373.3 932.9 373.5 925.7 373.7 932.5 373.9 923.2 374.1 927.0 374.4 926.0 374.6 923.8 374.8 932.4 375.0 931.1 375.2 923.1 375.4 928.8 375.6 926.5 375.8 926.9 376.0 928.8 376.2 924.4 376.5 927.3 376.7 927.8 376.9 924.3 377.1 924.8 377.3 930.4 377.5 923.9 377.7 936.7 377.9 935.8 378.1 924.3 378.3 928.6 378.6 919.2 378.8 924.8 379.0 923.8 379.2 924.4 379.4 919.0 379.6 928.9 379.8 928.5 380.0 924.8 380.2 927.9 380.4 932.1 380.7 935.0 380.9 923.2 381.1 935.2 381.3 921.9 381.5 925.7 381.7 927.6 381.9 935.5 382.1 931.9 382.3 931.9 382.5 936.0 382.8 930.8 383.0 928.2 383.2 936.1 383.4 929.4 383.6 925.3 383.8 923.6 384.0 931.3 384.2 938.4 384.4 934.0 384.6 931.3 384.9 928.5 385.1 925.4 385.3 933.3 385.5 929.5 385.7 937.4 385.9 928.6 386.1 935.3 386.3 933.1 386.5 932.5 386.7 935.3 387.0 932.2 387.2 938.6 387.4 932.1 387.6 924.4 387.8 939.1 388.0 938.8 388.2 935.6 388.4 939.4 388.6 936.7 388.8 930.8 389.1 926.1 389.3 930.3 389.5 933.5 389.7 936.9 389.9 929.3 390.1 931.5 390.3 941.4 390.5 932.7 390.7 932.7 390.9 932.0 391.2 942.5 391.4 939.4 391.6 939.9 391.8 943.2 392.0 940.6 392.2 942.3 392.4 938.5 392.6 940.7 392.8 939.9 393.0 940.4 393.3 933.1 393.5 937.1 393.7 936.7 393.9 935.7 394.1 938.3 394.3 945.8 394.5 942.6 394.7 939.3 394.9 940.5 395.1 944.9 395.4 934.6 395.6 941.2 395.8 946.4 396.0 947.1 396.2 943.7 396.4 942.5 396.6 933.4 396.8 937.9 397.0 940.8 397.2 942.7 397.5 943.0 397.7 932.5 397.9 939.7 398.1 943.1 398.3 939.2 398.5 941.5 398.7 949.2 398.9 944.1 399.1 943.8 399.3 946.2 399.6 947.9 399.8 942.6 400.0 939.8 400.2 941.4 400.4 942.4 400.6 944.4 400.8 938.8 401.0 942.0 401.2 944.2 401.4 950.8 401.7 947.7 401.9 945.3 402.1 949.5 402.3 947.0 402.5 947.4 402.7 950.9 402.9 948.3 403.1 952.0 403.3 950.2 403.5 945.4 403.8 948.0 404.0 939.8 404.2 946.6 404.4 954.5 404.6 947.3 404.8 948.9 405.0 947.4 405.2 945.2 405.4 951.3 405.6 949.5 405.9 954.0 406.1 946.5 406.3 950.3 406.5 949.0 406.7 948.2 406.9 954.8 407.1 948.0 407.3 948.2 407.5 961.0 407.7 951.0 408.0 950.7 408.2 953.5 408.4 947.9 408.6 953.4 408.8 947.6 409.0 950.5 409.2 950.3 409.4 957.9 409.6 955.3 409.8 960.2 410.1 959.7 410.3 950.7 410.5 955.6 410.7 952.1 410.9 951.5 411.1 958.7 411.3 959.8 411.5 954.9 411.7 955.9 411.9 955.9 412.2 964.2 412.4 956.5 412.6 951.4 412.8 957.8 413.0 953.0 413.2 951.2 413.4 955.4 413.6 957.2 413.8 959.6 414.0 958.0 414.3 959.3 414.5 949.0 414.7 958.6 414.9 958.0 415.1 958.5 415.3 954.7 415.5 964.3 415.7 960.8 415.9 960.7 416.1 958.6 416.4 957.3 416.6 962.2 416.8 953.7 417.0 957.2 417.2 958.0 417.4 961.5 417.6 958.3 417.8 965.1 418.0 946.8 418.2 966.0 418.5 961.4 418.7 963.9 418.9 958.5 419.1 964.6 419.3 955.7 419.5 962.0 419.7 955.5 419.9 963.5 420.1 962.0 420.3 954.5 420.6 961.5 420.8 960.9 421.0 965.4 421.2 959.8 421.4 963.3 421.6 967.7 421.8 959.6 422.0 970.3 422.2 964.2 422.4 962.6 422.7 958.4 422.9 957.0 423.1 967.7 423.3 962.4 423.5 962.0 423.7 968.6 423.9 967.3 424.1 965.3 424.3 959.4 424.5 957.8 424.8 969.0 425.0 965.4 425.2 964.8 425.4 973.2 425.6 964.5 425.8 967.7 426.0 974.7 426.2 969.0 426.4 964.7 426.6 963.8 426.9 971.8 427.1 962.7 427.3 970.7 427.5 973.9 427.7 967.5 427.9 971.2 428.1 968.5 428.3 973.8 428.5 969.7 428.7 966.2 429.0 970.4 429.2 969.7 429.4 967.0 429.6 968.6 429.8 965.1 430.0 966.7 430.2 972.5 430.4 963.2 430.6 971.5 430.8 970.6 431.1 968.6 431.3 976.3 431.5 973.8 431.7 969.2 431.9 972.4 432.1 975.3 432.3 966.1 432.5 973.1 432.7 971.5 432.9 974.2 433.2 980.9 433.4 970.6 433.6 972.0 433.8 969.0 434.0 974.6 434.2 976.3 434.4 964.9 434.6 979.9 434.8 980.6 435.0 964.7 435.3 969.3 435.5 977.0 435.7 975.8 435.9 980.1 436.1 974.8 436.3 980.9 436.5 971.2 436.7 978.1 436.9 975.1 437.1 975.2 437.4 970.5 437.6 975.9 437.8 982.8 438.0 975.4 438.2 977.2 438.4 978.7 438.6 974.8 438.8 979.7 439.0 981.0 439.2 978.2 439.5 972.3 439.7 985.2 439.9 979.9 440.1 979.8 440.3 979.3 440.5 978.0 440.7 974.2 440.9 980.4 441.1 981.4 441.3 984.7 441.6 987.3 441.8 978.6 442.0 987.5 442.2 982.1 442.4 984.1 442.6 978.3 442.8 983.6 443.0 979.0 443.2 985.2 443.4 978.2 443.7 983.2 443.9 981.7 444.1 984.7 444.3 984.5 444.5 984.4 444.7 982.1 444.9 987.4 445.1 986.5 445.3 981.6 445.5 987.5 445.8 982.5 446.0 985.4 446.2 984.9 446.4 985.1 446.6 988.6 446.8 979.2 447.0 982.1 447.2 979.7 447.4 991.0 447.6 988.7 447.9 981.3 448.1 988.3 448.3 986.0 448.5 983.0 448.7 992.1 448.9 991.9 449.1 989.4 449.3 994.4 449.5 988.9 449.7 987.6 450.0 993.6 450.2 986.2 450.4 992.0 450.6 993.2 450.8 990.1 451.0 989.7 451.2 991.2 451.4 990.5 451.6 987.1 451.8 976.5 452.1 988.0 452.3 984.6 452.5 993.7 452.7 988.5 452.9 991.2 453.1 993.2 453.3 994.3 453.5 987.2 453.7 998.7 453.9 994.2 454.2 993.3 454.4 987.7 454.6 998.6 454.8 993.7 455.0 995.5 455.2 990.4 455.4 998.6 455.6 997.1 455.8 991.4 456.0 999.2 456.3 988.1 456.5 995.3 456.7 991.1 456.9 994.8 457.1 989.7 457.3 991.2 457.5 996.4 457.7 997.0 457.9 993.1 458.1 992.6 458.4 991.9 458.6 999.0 458.8 996.2 459.0 992.5 459.2 987.8 459.4 988.4 459.6 991.1 459.8 988.0 460.0 994.2 460.2 994.8 460.5 992.5 460.7 994.9 460.9 996.3 461.1 990.5 461.3 999.8 461.5 987.3 461.7 1004.8 461.9 992.4 462.1 998.0 462.3 996.6 462.6 999.3 462.8 995.2 463.0 1000.0 463.2 992.3 463.4 1000.9 463.6 997.1 463.8 999.6 464.0 1002.0 464.2 993.9 464.4 996.1 464.7 995.6 464.9 998.0 465.1 999.1 465.3 1001.1 465.5 999.3 465.7 998.0 465.9 1000.6 466.1 1002.4 466.3 1002.2 466.5 1006.4 466.8 996.5 467.0 999.7 467.2 994.0 467.4 996.4 467.6 1001.2 467.8 1003.5 468.0 997.0 468.2 1000.4 468.4 998.8 468.6 1000.3 468.9 999.1 469.1 996.4 469.3 989.8 469.5 992.4 469.7 999.2 469.9 997.3 470.1 1005.1 470.3 997.6 470.5 1000.6 470.7 992.8 471.0 991.9 471.2 997.6 471.4 1002.9 471.6 998.1 471.8 995.4 472.0 997.9 472.2 998.5 472.4 997.8 472.6 996.1 472.8 992.0 473.1 991.6 473.3 993.7 473.5 995.0 473.7 990.6 473.9 1001.3 474.1 997.7 474.3 993.7 474.5 998.5 474.7 1004.6 474.9 996.7 475.2 996.7 475.4 999.7 475.6 991.0 475.8 994.0 476.0 993.3 476.2 998.6 476.4 990.1 476.6 997.5 476.8 994.6 477.0 995.4 477.3 994.4 477.5 1001.9 477.7 993.5 477.9 992.3 478.1 997.8 478.3 994.7 478.5 998.7 478.7 996.7 478.9 997.1 479.1 997.2 479.4 990.9 479.6 989.8 479.8 1004.5 480.0 993.0 480.2 999.2 480.4 993.3 480.6 997.1 480.8 996.5 481.0 1002.8 481.2 996.9 481.5 992.1 481.7 992.6 481.9 998.9 482.1 1001.1 482.3 1005.5 482.5 1006.1 482.7 993.5 482.9 998.4 483.1 994.6 483.3 1000.2 483.6 1002.4 483.8 993.0 484.0 1003.0 484.2 1002.7 484.4 999.4 484.6 998.3 484.8 1006.7 485.0 1000.4 485.2 997.2 485.4 1001.7 485.7 1005.3 485.9 1004.2 486.1 994.9 486.3 997.3 486.5 1000.9 486.7 1003.1 486.9 1003.3 487.1 998.5 487.3 1006.5 487.5 1005.1 487.8 998.0 488.0 1000.4 488.2 1003.7 488.4 998.8 488.6 1004.6 488.8 1005.3 489.0 1003.3 489.2 1007.2 489.4 1011.9 489.6 1003.3 489.9 1007.6 490.1 1002.9 490.3 1011.9 490.5 1011.2 490.7 1006.9 490.9 1005.0 491.1 1010.2 491.3 1007.5 491.5 1003.6 491.7 1004.6 492.0 1007.9 492.2 1016.5 492.4 1012.9 492.6 1014.2 492.8 1012.8 493.0 1014.6 493.2 1015.3 493.4 1006.3 493.6 1012.7 493.8 1013.0 494.1 1012.8 494.3 1012.7 494.5 1002.6 494.7 1012.4 494.9 1007.2 495.1 1015.5 495.3 1010.4 495.5 1011.3 495.7 1012.2 495.9 1005.2 496.2 1008.2 496.4 1008.1 496.6 1016.1 496.8 1010.9 497.0 1008.9 497.2 1017.3 497.4 1012.0 497.6 1009.7 497.8 1012.8 498.0 1012.6 498.3 1014.2 498.5 1009.9 498.7 1017.3 498.9 1014.8 499.1 1019.5 499.3 1015.8 499.5 1010.5 499.7 1017.8 499.9 1013.2 500.1 1014.6 500.4 1005.6 500.6 1010.0 500.8 1019.3 501.0 1018.4 501.2 1008.5 501.4 1015.9 501.6 1016.1 501.8 1019.3 502.0 1011.2 502.2 1009.0 502.5 1016.3 502.7 1013.0 502.9 1013.3 503.1 1012.3 503.3 1019.9 503.5 1012.5 503.7 1019.0 503.9 1017.8 504.1 1013.4 504.3 1019.1 504.6 1020.2 504.8 1017.0 505.0 1015.0 505.2 1018.5 505.4 1020.2 505.6 1017.6 505.8 1021.3 506.0 1011.3 506.2 1009.7 506.4 1018.6 506.7 1013.0 506.9 1014.5 507.1 1016.6 507.3 1014.0 507.5 1016.6 507.7 1012.8 507.9 1014.4 508.1 1016.0 508.3 1018.2 508.5 1014.9 508.8 1018.0 509.0 1018.5 509.2 1018.2 509.4 1016.1 509.6 1021.1 509.8 1013.8 510.0 1020.2 510.2 1020.1 510.4 1019.7 510.6 1014.9 510.9 1020.1 511.1 1018.4 511.3 1012.8 511.5 1015.7 511.7 1012.3 511.9 1018.2 512.1 1021.8 512.3 1020.3 512.5 1013.6 512.7 1013.6 513.0 1016.5 513.2 1016.7 513.4 1019.9 513.6 1016.2 513.8 1021.3 514.0 1015.6 514.2 1021.1 514.4 1012.5 514.6 1015.7 514.8 1017.8 515.1 1020.6 515.3 1019.6 515.5 1014.8 515.7 1013.4 515.9 1017.9 516.1 1017.7 516.3 1016.7 516.5 1018.0 516.7 1013.5 516.9 1020.0 517.2 1021.7 517.4 1015.2 517.6 1015.4 517.8 1022.7 518.0 1022.2 518.2 1015.8 518.4 1016.2 518.6 1012.6 518.8 1020.4 519.0 1019.5 519.3 1018.9 519.5 1026.7 519.7 1018.3 519.9 1018.6 520.1 1019.9 520.3 1018.4 520.5 1023.0 520.7 1018.6 520.9 1019.7 521.1 1027.2 521.4 1017.4 521.6 1015.3 521.8 1020.1 522.0 1017.5 522.2 1017.5 522.4 1020.6 522.6 1022.8 522.8 1014.6 523.0 1019.3 523.2 1012.8 523.5 1023.4 523.7 1016.6 523.9 1022.5 524.1 1026.6 524.3 1025.1 524.5 1022.0 524.7 1013.7 524.9 1027.2 525.1 1019.3 525.3 1023.6 525.6 1019.1 525.8 1020.1 526.0 1026.6 526.2 1015.3 526.4 1016.9 526.6 1020.2 526.8 1025.0 527.0 1012.7 527.2 1025.8 527.4 1020.1 527.7 1024.0 527.9 1030.8 528.1 1023.6 528.3 1025.7 528.5 1026.7 528.7 1021.0 528.9 1022.6 529.1 1021.6 529.3 1023.0 529.5 1021.3 529.8 1020.6 530.0 1020.4 530.2 1025.2 530.4 1021.6 530.6 1023.1 530.8 1027.6 531.0 1018.1 531.2 1016.9 531.4 1025.4 531.6 1020.4 531.9 1020.7 532.1 1025.5 532.3 1024.5 532.5 1021.1 532.7 1022.4 532.9 1018.6 533.1 1021.7 533.3 1023.6 533.5 1025.8 533.7 1026.0 534.0 1030.1 534.2 1023.9 534.4 1027.7 534.6 1025.3 534.8 1021.0 535.0 1025.6 535.2 1025.8 535.4 1027.0 535.6 1026.5 535.8 1025.3 536.1 1021.9 536.3 1023.9 536.5 1025.9 536.7 1027.1 536.9 1027.6 537.1 1026.0 537.3 1026.9 537.5 1029.6 537.7 1025.3 537.9 1022.7 538.2 1019.6 538.4 1024.6 538.6 1026.6 538.8 1023.1 539.0 1029.4 539.2 1021.3 539.4 1022.9 539.6 1024.0 539.8 1019.8 540.0 1027.5 540.3 1021.4 540.5 1019.8 540.7 1017.5 540.9 1026.9 541.1 1028.2 541.3 1020.5 541.5 1019.2 541.7 1022.7 541.9 1024.4 542.1 1022.8 542.4 1026.4 542.6 1021.3 542.8 1032.2 543.0 1026.5 543.2 1028.9 543.4 1024.2 543.6 1029.1 543.8 1031.7 544.0 1023.7 544.2 1026.8 544.5 1030.0 544.7 1028.1 544.9 1024.0 545.1 1025.4 545.3 1029.2 545.5 1028.5 545.7 1025.3 545.9 1028.8 546.1 1020.2 546.3 1028.3 546.6 1031.5 546.8 1031.6 547.0 1027.0 547.2 1029.3 547.4 1029.3 547.6 1028.1 547.8 1025.7 548.0 1023.5 548.2 1026.3 548.4 1024.1 548.7 1037.7 548.9 1032.3 549.1 1023.0 549.3 1025.7 549.5 1025.7 549.7 1021.8 549.9 1028.9 550.1 1021.8 550.3 1033.7 550.5 1022.8 550.8 1024.8 551.0 1027.0 551.2 1027.1 551.4 1027.5 551.6 1031.4 551.8 1032.4 552.0 1036.0 552.2 1024.3 552.4 1032.2 552.6 1030.9 552.9 1027.6 553.1 1024.2 553.3 1037.0 553.5 1032.9 553.7 1022.6 553.9 1034.0 554.1 1030.4 554.3 1029.6 554.5 1031.5 554.7 1026.7 555.0 1028.3 555.2 1032.1 555.4 1024.7 555.6 1024.0 555.8 1022.9 556.0 1031.3 556.2 1025.0 556.4 1027.5 556.6 1026.9 556.8 1030.7 557.1 1029.9 557.3 1025.8 557.5 1033.5 557.7 1030.1 557.9 1029.8 558.1 1027.1 558.3 1027.4 558.5 1027.7 558.7 1028.7 558.9 1030.1 559.2 1030.1 559.4 1027.7 559.6 1028.2 559.8 1031.0 560.0 1032.7 560.2 1032.9 560.4 1028.5 560.6 1024.2 560.8 1029.1 561.0 1029.2 561.3 1028.9 561.5 1030.4 561.7 1026.9 561.9 1029.0 562.1 1020.6 562.3 1034.7 562.5 1028.7 562.7 1027.5 562.9 1030.4 563.1 1027.7 563.4 1026.0 563.6 1031.4 563.8 1028.8 564.0 1026.2 564.2 1030.9 564.4 1030.1 564.6 1029.9 564.8 1027.7 565.0 1032.7 565.2 1026.1 565.5 1032.3 565.7 1034.9 565.9 1026.7 566.1 1030.8 566.3 1024.1 566.5 1030.6 566.7 1024.8 566.9 1026.3 567.1 1031.8 567.3 1035.0 567.6 1033.2 567.8 1031.0 568.0 1029.3 568.2 1032.2 568.4 1040.6 568.6 1037.4 568.8 1028.2 569.0 1030.6 569.2 1028.3 569.4 1035.3 569.7 1032.5 569.9 1028.3 570.1 1033.1 570.3 1032.1 570.5 1027.1 570.7 1032.7 570.9 1037.0 571.1 1031.0 571.3 1033.0 571.5 1029.5 571.8 1033.1 572.0 1039.3 572.2 1036.6 572.4 1032.4 572.6 1032.9 572.8 1039.3 573.0 1034.7 573.2 1033.5 573.4 1039.3 573.6 1034.1 573.9 1033.2 574.1 1037.1 574.3 1031.4 574.5 1034.5 574.7 1033.4 574.9 1036.7 575.1 1036.0 575.3 1042.7 575.5 1038.9 575.7 1036.8 576.0 1038.8 576.2 1036.2 576.4 1037.9 576.6 1039.2 576.8 1039.0 577.0 1042.4 577.2 1039.7 577.4 1035.6 577.6 1039.0 577.8 1034.5 578.1 1045.3 578.3 1032.3 578.5 1038.4 578.7 1040.7 578.9 1036.0 579.1 1037.9 579.3 1042.9 579.5 1035.5 579.7 1042.9 579.9 1039.2 580.2 1038.9 580.4 1047.0 580.6 1043.1 580.8 1042.0 581.0 1040.0 581.2 1041.6 581.4 1040.6 581.6 1047.5 581.8 1048.4 582.0 1039.3 582.3 1040.2 582.5 1043.4 582.7 1038.5 582.9 1039.9 583.1 1037.2 583.3 1035.0 583.5 1050.6 583.7 1042.3 583.9 1049.0 584.1 1045.1 584.4 1044.2 584.6 1039.6 584.8 1043.2 585.0 1044.0 585.2 1040.5 585.4 1045.9 585.6 1047.7 585.8 1045.3 586.0 1044.5 586.2 1038.1 586.5 1053.2 586.7 1046.5 586.9 1040.1 587.1 1040.2 587.3 1041.9 587.5 1040.8 587.7 1044.4 587.9 1041.4 588.1 1044.8 588.3 1042.9 588.6 1043.6 588.8 1040.6 589.0 1045.2 589.2 1045.5 589.4 1042.0 589.6 1039.2 589.8 1045.0 590.0 1038.8 590.2 1042.2 590.4 1046.5 590.7 1049.2 590.9 1044.1 591.1 1046.2 591.3 1049.5 591.5 1041.7 591.7 1043.8 591.9 1046.3 592.1 1049.8 592.3 1041.4 592.5 1041.4 592.8 1048.7 593.0 1049.6 593.2 1043.5 593.4 1045.8 593.6 1053.3 593.8 1045.0 594.0 1039.4 594.2 1046.5 594.4 1049.0 594.6 1041.7 594.9 1050.3 595.1 1044.9 595.3 1040.0 595.5 1046.8 595.7 1041.0 595.9 1050.7 596.1 1047.8 596.3 1052.2 596.5 1040.7 596.7 1046.8 597.0 1051.3 597.2 1050.5 597.4 1048.7 597.6 1047.8 597.8 1048.8 598.0 1050.1 598.2 1052.8 598.4 1040.9 598.6 1043.4 598.8 1044.9 599.1 1047.6 599.3 1048.3 599.5 1045.8 599.7 1046.8 599.9 1049.7 600.1 1051.2 600.3 1044.6 600.5 1046.4 600.7 1047.5 600.9 1055.7 601.2 1045.2 601.4 1048.6 601.6 1047.9 601.8 1046.4 602.0 1051.1 602.2 1047.8 602.4 1046.6 602.6 1048.6 602.8 1049.4 603.0 1046.5 603.3 1046.3 603.5 1052.6 603.7 1047.1 603.9 1052.2 604.1 1048.8 604.3 1046.6 604.5 1045.8 604.7 1044.0 604.9 1052.1 605.1 1052.1 605.4 1048.7 605.6 1046.6 605.8 1048.5 606.0 1050.9 606.2 1054.7 606.4 1048.5 606.6 1045.2 606.8 1048.9 607.0 1049.8 607.2 1048.4 607.5 1045.1 607.7 1053.3 607.9 1056.2 608.1 1048.3 608.3 1046.9 608.5 1050.0 608.7 1050.9 608.9 1053.7 609.1 1052.3 609.3 1046.4 609.6 1053.0 609.8 1053.1 610.0 1050.5 610.2 1053.3 610.4 1047.8 610.6 1051.3 610.8 1048.0 611.0 1052.5 611.2 1055.1 611.4 1046.2 611.7 1052.8 611.9 1055.2 612.1 1053.7 612.3 1058.3 612.5 1052.8 612.7 1060.3 612.9 1053.5 613.1 1049.3 613.3 1052.9 613.5 1051.2 613.8 1057.5 614.0 1059.0 614.2 1059.3 614.4 1056.4 614.6 1053.5 614.8 1052.1 615.0 1050.3 615.2 1056.4 615.4 1050.1 615.6 1053.4 615.9 1055.1 616.1 1055.9 616.3 1049.9 616.5 1050.5 616.7 1050.8 616.9 1057.6 617.1 1051.1 617.3 1051.9 617.5 1057.0 617.7 1058.2 618.0 1061.4 618.2 1055.3 618.4 1058.5 618.6 1049.7 618.8 1058.4 619.0 1058.5 619.2 1059.0 619.4 1054.3 619.6 1060.7 619.8 1061.4 620.1 1056.2 620.3 1056.5 620.5 1055.3 620.7 1055.5 620.9 1056.5 621.1 1052.4 621.3 1052.2 621.5 1055.9 621.7 1055.1 621.9 1060.0 622.2 1056.3 622.4 1053.9 622.6 1051.3 622.8 1056.1 623.0 1051.5 623.2 1051.5 623.4 1063.7 623.6 1051.2 623.8 1063.1 624.0 1067.8 624.3 1058.2 624.5 1056.5 624.7 1060.2 624.9 1055.2 625.1 1058.8 625.3 1060.7 625.5 1054.2 625.7 1063.4 625.9 1058.6 626.1 1059.4 626.4 1062.8 626.6 1054.0 626.8 1054.5 627.0 1059.6 627.2 1059.9 627.4 1058.0 627.6 1058.5 627.8 1058.1 628.0 1055.8 628.2 1054.7 628.5 1056.6 628.7 1059.4 628.9 1060.5 629.1 1055.0 629.3 1064.8 629.5 1066.9 629.7 1060.0 629.9 1056.7 630.1 1058.8 630.3 1062.0 630.6 1059.2 630.8 1065.7 631.0 1058.6 631.2 1062.7 631.4 1061.2 631.6 1067.1 631.8 1061.1 632.0 1061.4 632.2 1057.1 632.4 1056.0 632.7 1055.7 632.9 1070.6 633.1 1060.3 633.3 1059.5 633.5 1060.3 633.7 1061.6 633.9 1062.2 634.1 1060.9 634.3 1064.6 634.5 1060.8 634.8 1060.5 635.0 1066.6 635.2 1061.7 635.4 1058.3 635.6 1058.1 635.8 1063.6 636.0 1061.3 636.2 1061.6 636.4 1057.1 636.6 1061.9 636.9 1059.3 637.1 1058.9 637.3 1065.8 637.5 1062.6 637.7 1060.8 637.9 1065.1 638.1 1068.0 638.3 1057.1 638.5 1065.1 638.7 1063.0 639.0 1062.0 639.2 1066.9 639.4 1065.1 639.6 1061.0 639.8 1066.6 640.0 1062.0 640.2 1062.7 640.4 1058.5 640.6 1063.0 640.8 1064.9 641.1 1062.0 641.3 1063.2 641.5 1067.3 641.7 1062.8 641.9 1061.3 642.1 1068.9 642.3 1061.2 642.5 1055.8 642.7 1059.5 642.9 1062.9 643.2 1059.9 643.4 1060.2 643.6 1062.3 643.8 1063.4 644.0 1063.2 644.2 1064.1 644.4 1067.7 644.6 1074.9 644.8 1066.2 645.0 1056.1 645.3 1062.2 645.5 1064.7 645.7 1061.0 645.9 1064.4 646.1 1061.0 646.3 1068.1 646.5 1071.4 646.7 1067.8 646.9 1073.3 647.1 1061.1 647.4 1067.6 647.6 1064.5 647.8 1065.4 648.0 1061.5 648.2 1064.8 648.4 1064.7 648.6 1062.8 648.8 1068.8 649.0 1067.6 649.2 1069.0 649.5 1063.5 649.7 1063.1 649.9 1061.8 650.1 1075.9 650.3 1069.4 650.5 1066.5 650.7 1064.7 650.9 1067.6 651.1 1069.3 651.3 1071.8 651.6 1067.6 651.8 1072.4 652.0 1073.3 652.2 1066.6 652.4 1070.8 652.6 1070.4 652.8 1066.4 653.0 1069.1 653.2 1072.1 653.4 1075.3 653.7 1069.6 653.9 1070.9 654.1 1071.8 654.3 1071.4 654.5 1068.5 654.7 1076.0 654.9 1072.9 655.1 1075.4 655.3 1076.4 655.5 1073.2 655.8 1071.8 656.0 1073.0 656.2 1073.8 656.4 1073.1 656.6 1075.1 656.8 1071.9 657.0 1075.2 657.2 1075.1" fill="none" stroke="#000" stroke-width="2.4" stroke-linejoin="round"/>
<path d="M831.71 467.79 L834.07 467.78 L836.42 467.76 L838.77 467.75 L841.13 467.73 L843.48 467.72 L845.84 467.70 L848.19 467.69 L850.54 467.67 L852.90 467.66 L855.25 467.64 L857.61 467.63 L859.96 467.61 L862.31 467.60 L864.67 467.58 L867.02 467.57 L869.38 467.55 L871.73 467.54 L874.08 467.52 L876.44 467.51 L900.92 467.00 L924.46 466.80 L948.00 466.70 L971.54 466.60 L995.08 466.50 L999.79 466.48 L1004.50 466.46 L1009.20 466.44 L1013.91 466.42 L1018.62 466.40 L1023.33 466.36 L1028.04 466.32 L1032.74 466.28 L1037.45 466.24 L1042.16 466.20 L1046.87 466.16 L1051.58 466.12 L1056.28 466.08 L1060.99 466.04 L1065.70 466.00 L1089.24 466.00 L1112.78 465.30 L1136.32 464.80 L1159.86 464.20 L1183.40 463.60 L1206.94 463.00 L1230.48 462.40 L1254.02 462.80 L1277.56 447.60 L1298.98 123.90" fill="none" stroke="#000" stroke-width="3.6" stroke-linejoin="round" stroke-linecap="butt"/>
<g fill="#000"><circle cx="831.71" cy="467.79" r="7"/><circle cx="834.07" cy="467.78" r="7"/><circle cx="836.42" cy="467.76" r="7"/><circle cx="838.77" cy="467.75" r="7"/><circle cx="841.13" cy="467.73" r="7"/><circle cx="843.48" cy="467.72" r="7"/><circle cx="845.84" cy="467.70" r="7"/><circle cx="848.19" cy="467.69" r="7"/><circle cx="850.54" cy="467.67" r="7"/><circle cx="852.90" cy="467.66" r="7"/><circle cx="855.25" cy="467.64" r="7"/><circle cx="857.61" cy="467.63" r="7"/><circle cx="859.96" cy="467.61" r="7"/><circle cx="862.31" cy="467.60" r="7"/><circle cx="864.67" cy="467.58" r="7"/><circle cx="867.02" cy="467.57" r="7"/><circle cx="869.38" cy="467.55" r="7"/><circle cx="871.73" cy="467.54" r="7"/><circle cx="874.08" cy="467.52" r="7"/><circle cx="876.44" cy="467.51" r="7"/><circle cx="900.92" cy="467.00" r="7"/><circle cx="924.46" cy="466.80" r="7"/><circle cx="948.00" cy="466.70" r="7"/><circle cx="971.54" cy="466.60" r="7"/><circle cx="995.08" cy="466.50" r="7"/><circle cx="999.79" cy="466.48" r="7"/><circle cx="1004.50" cy="466.46" r="7"/><circle cx="1009.20" cy="466.44" r="7"/><circle cx="1013.91" cy="466.42" r="7"/><circle cx="1018.62" cy="466.40" r="7"/><circle cx="1023.33" cy="466.36" r="7"/><circle cx="1028.04" cy="466.32" r="7"/><circle cx="1032.74" cy="466.28" r="7"/><circle cx="1037.45" cy="466.24" r="7"/><circle cx="1042.16" cy="466.20" r="7"/><circle cx="1046.87" cy="466.16" r="7"/><circle cx="1051.58" cy="466.12" r="7"/><circle cx="1056.28" cy="466.08" r="7"/><circle cx="1060.99" cy="466.04" r="7"/><circle cx="1065.70" cy="466.00" r="7"/><circle cx="1089.24" cy="466.00" r="7"/><circle cx="1112.78" cy="465.30" r="7"/><circle cx="1136.32" cy="464.80" r="7"/><circle cx="1159.86" cy="464.20" r="7"/><circle cx="1183.40" cy="463.60" r="7"/><circle cx="1206.94" cy="463.00" r="7"/><circle cx="1230.48" cy="462.40" r="7"/><circle cx="1254.02" cy="462.80" r="7"/><circle cx="1277.56" cy="447.60" r="7"/><circle cx="1298.98" cy="123.90" r="7"/></g>
<path d="M831.71 466.96 L834.07 466.89 L836.42 466.82 L838.77 466.75 L841.13 466.68 L843.48 466.61 L845.84 466.54 L848.19 466.47 L850.54 466.40 L852.90 466.33 L855.25 466.26 L857.61 466.19 L859.96 466.12 L862.31 466.05 L864.67 465.98 L867.02 465.91 L869.38 465.84 L871.73 465.77 L874.08 465.70 L876.44 465.63 L900.92 464.60 L924.46 464.20 L948.00 463.80 L971.54 463.40 L995.08 463.20 L999.79 463.17 L1004.50 463.15 L1009.20 463.12 L1013.91 463.09 L1018.62 463.07 L1023.33 463.04 L1028.04 463.01 L1032.74 462.99 L1037.45 462.96 L1042.16 462.93 L1046.87 462.91 L1051.58 462.88 L1056.28 462.85 L1060.99 462.83 L1065.70 462.80 L1089.24 461.60 L1112.78 461.00 L1136.32 460.60 L1159.86 459.80 L1183.40 459.40 L1206.94 458.50 L1230.48 457.30 L1254.02 453.00 L1277.56 413.20 L1298.98 123.90" fill="none" stroke="#ff0000" stroke-width="3.6" stroke-linejoin="round" stroke-linecap="butt"/>
<g fill="#ff0000"><circle cx="831.71" cy="466.96" r="7"/><circle cx="834.07" cy="466.89" r="7"/><circle cx="836.42" cy="466.82" r="7"/><circle cx="838.77" cy="466.75" r="7"/><circle cx="841.13" cy="466.68" r="7"/><circle cx="843.48" cy="466.61" r="7"/><circle cx="845.84" cy="466.54" r="7"/><circle cx="848.19" cy="466.47" r="7"/><circle cx="850.54" cy="466.40" r="7"/><circle cx="852.90" cy="466.33" r="7"/><circle cx="855.25" cy="466.26" r="7"/><circle cx="857.61" cy="466.19" r="7"/><circle cx="859.96" cy="466.12" r="7"/><circle cx="862.31" cy="466.05" r="7"/><circle cx="864.67" cy="465.98" r="7"/><circle cx="867.02" cy="465.91" r="7"/><circle cx="869.38" cy="465.84" r="7"/><circle cx="871.73" cy="465.77" r="7"/><circle cx="874.08" cy="465.70" r="7"/><circle cx="876.44" cy="465.63" r="7"/><circle cx="900.92" cy="464.60" r="7"/><circle cx="924.46" cy="464.20" r="7"/><circle cx="948.00" cy="463.80" r="7"/><circle cx="971.54" cy="463.40" r="7"/><circle cx="995.08" cy="463.20" r="7"/><circle cx="999.79" cy="463.17" r="7"/><circle cx="1004.50" cy="463.15" r="7"/><circle cx="1009.20" cy="463.12" r="7"/><circle cx="1013.91" cy="463.09" r="7"/><circle cx="1018.62" cy="463.07" r="7"/><circle cx="1023.33" cy="463.04" r="7"/><circle cx="1028.04" cy="463.01" r="7"/><circle cx="1032.74" cy="462.99" r="7"/><circle cx="1037.45" cy="462.96" r="7"/><circle cx="1042.16" cy="462.93" r="7"/><circle cx="1046.87" cy="462.91" r="7"/><circle cx="1051.58" cy="462.88" r="7"/><circle cx="1056.28" cy="462.85" r="7"/><circle cx="1060.99" cy="462.83" r="7"/><circle cx="1065.70" cy="462.80" r="7"/><circle cx="1089.24" cy="461.60" r="7"/><circle cx="1112.78" cy="461.00" r="7"/><circle cx="1136.32" cy="460.60" r="7"/><circle cx="1159.86" cy="459.80" r="7"/><circle cx="1183.40" cy="459.40" r="7"/><circle cx="1206.94" cy="458.50" r="7"/><circle cx="1230.48" cy="457.30" r="7"/><circle cx="1254.02" cy="453.00" r="7"/><circle cx="1277.56" cy="413.20" r="7"/><circle cx="1298.98" cy="123.90" r="7"/></g>
<line x1="802.00" y1="103.40" x2="869.60" y2="103.40" stroke="#000" stroke-width="3.4" stroke-linecap="butt"/>
<g fill="#000"><circle cx="836.60" cy="103.40" r="6.8"/></g>
<line x1="802.00" y1="143.00" x2="869.60" y2="143.00" stroke="#ff0000" stroke-width="3.4" stroke-linecap="butt"/>
<g fill="#ff0000"><circle cx="836.60" cy="143.00" r="6.8"/></g>
<text transform="translate(875.90,113.60) scale(1.0,1.025)" font-size="30.5" text-anchor="start" >Adsorption</text>
<text transform="translate(877.80,152.40) scale(1.0,1.025)" font-size="30.5" text-anchor="start" >Desorption</text>
<text transform="translate(931.20,268.00) scale(1.0,1.025)" font-size="34.45" text-anchor="start" >S<tspan font-size="24" dy="6">BET</tspan><tspan dy="-6" font-size="1">&#8203;</tspan>~ <tspan dx="2.2">25.5 m</tspan><tspan font-size="23" dy="-10.2">2</tspan><tspan dy="10.2" font-size="1">&#8203;</tspan><tspan dx="-0.8"> g</tspan><tspan font-size="22" dy="-10.2">-1</tspan><tspan dy="10.2" font-size="1">&#8203;</tspan></text>
<text transform="translate(929.50,313.60) scale(1.0,1.025)" font-size="34.45" text-anchor="start" >NMgSC-1 (0.5 : 1)</text>
<path d="M830.87 1043.33 L831.82 1041.00 L833.24 1037.74 L835.13 1034.44 L837.49 1031.87 L839.85 1030.30 L842.69 1029.64 L846.00 1028.88 L849.30 1028.11 L853.08 1027.63 L856.87 1027.20 L860.65 1026.77 L864.43 1026.36 L868.21 1026.06 L872.93 1025.68 L877.66 1025.30 L901.29 1023.00 L924.92 1021.00 L948.55 1019.00 L972.18 1017.20 L995.81 1015.00 L1000.54 1014.50 L1005.26 1014.00 L1009.99 1013.50 L1014.71 1013.00 L1019.44 1012.50 L1024.17 1012.00 L1028.89 1011.50 L1033.62 1011.00 L1038.34 1010.50 L1043.07 1010.00 L1047.80 1009.40 L1052.52 1008.80 L1057.25 1008.20 L1061.97 1007.60 L1066.70 1007.00 L1090.33 1004.50 L1113.96 1000.80 L1137.59 997.80 L1161.22 993.50 L1184.85 987.50 L1208.48 979.00 L1232.11 968.50 L1255.74 948.80 L1279.37 894.00 L1300.40 710.30" fill="none" stroke="#000" stroke-width="4.4" stroke-linejoin="round" stroke-linecap="butt"/>
<g fill="#000"><circle cx="830.87" cy="1043.33" r="7"/><circle cx="831.82" cy="1041.00" r="7"/><circle cx="833.24" cy="1037.74" r="7"/><circle cx="835.13" cy="1034.44" r="7"/><circle cx="837.49" cy="1031.87" r="7"/><circle cx="839.85" cy="1030.30" r="7"/><circle cx="842.69" cy="1029.64" r="7"/><circle cx="846.00" cy="1028.88" r="7"/><circle cx="849.30" cy="1028.11" r="7"/><circle cx="853.08" cy="1027.63" r="7"/><circle cx="856.87" cy="1027.20" r="7"/><circle cx="860.65" cy="1026.77" r="7"/><circle cx="864.43" cy="1026.36" r="7"/><circle cx="868.21" cy="1026.06" r="7"/><circle cx="872.93" cy="1025.68" r="7"/><circle cx="877.66" cy="1025.30" r="7"/><circle cx="901.29" cy="1023.00" r="7"/><circle cx="924.92" cy="1021.00" r="7"/><circle cx="948.55" cy="1019.00" r="7"/><circle cx="972.18" cy="1017.20" r="7"/><circle cx="995.81" cy="1015.00" r="7"/><circle cx="1000.54" cy="1014.50" r="7"/><circle cx="1005.26" cy="1014.00" r="7"/><circle cx="1009.99" cy="1013.50" r="7"/><circle cx="1014.71" cy="1013.00" r="7"/><circle cx="1019.44" cy="1012.50" r="7"/><circle cx="1024.17" cy="1012.00" r="7"/><circle cx="1028.89" cy="1011.50" r="7"/><circle cx="1033.62" cy="1011.00" r="7"/><circle cx="1038.34" cy="1010.50" r="7"/><circle cx="1043.07" cy="1010.00" r="7"/><circle cx="1047.80" cy="1009.40" r="7"/><circle cx="1052.52" cy="1008.80" r="7"/><circle cx="1057.25" cy="1008.20" r="7"/><circle cx="1061.97" cy="1007.60" r="7"/><circle cx="1066.70" cy="1007.00" r="7"/><circle cx="1090.33" cy="1004.50" r="7"/><circle cx="1113.96" cy="1000.80" r="7"/><circle cx="1137.59" cy="997.80" r="7"/><circle cx="1161.22" cy="993.50" r="7"/><circle cx="1184.85" cy="987.50" r="7"/><circle cx="1208.48" cy="979.00" r="7"/><circle cx="1232.11" cy="968.50" r="7"/><circle cx="1255.74" cy="948.80" r="7"/><circle cx="1279.37" cy="894.00" r="7"/><circle cx="1300.40" cy="710.30" r="7"/></g>
<path d="M830.87 1042.33 L831.82 1040.00 L833.24 1036.74 L835.13 1033.44 L837.49 1030.87 L839.85 1029.30 L842.69 1028.64 L846.00 1027.88 L849.30 1027.11 L853.08 1026.58 L856.87 1026.10 L860.65 1025.62 L864.43 1025.16 L868.21 1024.83 L872.93 1024.41 L877.66 1024.00 L901.29 1021.30 L924.92 1019.00 L948.55 1017.00 L972.18 1015.00 L995.81 1012.60 L1000.54 1011.98 L1005.26 1011.36 L1009.99 1010.74 L1014.71 1010.12 L1019.44 1009.50 L1024.17 1008.80 L1028.89 1008.10 L1033.62 1007.40 L1038.34 1006.70 L1043.07 1006.00 L1047.80 1005.12 L1052.52 1004.24 L1057.25 1003.36 L1061.97 1002.48 L1066.70 1001.60 L1090.33 998.20 L1113.96 994.50 L1137.59 990.80 L1161.22 986.00 L1184.85 977.80 L1208.48 967.00 L1232.11 949.60 L1255.74 918.60 L1279.37 840.80 L1300.40 710.30" fill="none" stroke="#ff0000" stroke-width="4.6" stroke-linejoin="round" stroke-linecap="butt"/>
<g fill="#ff0000"><circle cx="830.87" cy="1042.33" r="7"/><circle cx="831.82" cy="1040.00" r="7"/><circle cx="833.24" cy="1036.74" r="7"/><circle cx="835.13" cy="1033.44" r="7"/><circle cx="837.49" cy="1030.87" r="7"/><circle cx="839.85" cy="1029.30" r="7"/><circle cx="842.69" cy="1028.64" r="7"/><circle cx="846.00" cy="1027.88" r="7"/><circle cx="849.30" cy="1027.11" r="7"/><circle cx="853.08" cy="1026.58" r="7"/><circle cx="856.87" cy="1026.10" r="7"/><circle cx="860.65" cy="1025.62" r="7"/><circle cx="864.43" cy="1025.16" r="7"/><circle cx="868.21" cy="1024.83" r="7"/><circle cx="872.93" cy="1024.41" r="7"/><circle cx="877.66" cy="1024.00" r="7"/><circle cx="901.29" cy="1021.30" r="7"/><circle cx="924.92" cy="1019.00" r="7"/><circle cx="948.55" cy="1017.00" r="7"/><circle cx="972.18" cy="1015.00" r="7"/><circle cx="995.81" cy="1012.60" r="7"/><circle cx="1000.54" cy="1011.98" r="7"/><circle cx="1005.26" cy="1011.36" r="7"/><circle cx="1009.99" cy="1010.74" r="7"/><circle cx="1014.71" cy="1010.12" r="7"/><circle cx="1019.44" cy="1009.50" r="7"/><circle cx="1024.17" cy="1008.80" r="7"/><circle cx="1028.89" cy="1008.10" r="7"/><circle cx="1033.62" cy="1007.40" r="7"/><circle cx="1038.34" cy="1006.70" r="7"/><circle cx="1043.07" cy="1006.00" r="7"/><circle cx="1047.80" cy="1005.12" r="7"/><circle cx="1052.52" cy="1004.24" r="7"/><circle cx="1057.25" cy="1003.36" r="7"/><circle cx="1061.97" cy="1002.48" r="7"/><circle cx="1066.70" cy="1001.60" r="7"/><circle cx="1090.33" cy="998.20" r="7"/><circle cx="1113.96" cy="994.50" r="7"/><circle cx="1137.59" cy="990.80" r="7"/><circle cx="1161.22" cy="986.00" r="7"/><circle cx="1184.85" cy="977.80" r="7"/><circle cx="1208.48" cy="967.00" r="7"/><circle cx="1232.11" cy="949.60" r="7"/><circle cx="1255.74" cy="918.60" r="7"/><circle cx="1279.37" cy="840.80" r="7"/><circle cx="1300.40" cy="710.30" r="7"/></g>
<line x1="808.40" y1="699.00" x2="878.40" y2="699.00" stroke="#000" stroke-width="4.8" stroke-linecap="butt"/>
<g fill="#000"><circle cx="844.40" cy="699.00" r="7"/></g>
<line x1="808.40" y1="738.40" x2="878.40" y2="738.40" stroke="#ff0000" stroke-width="4.8" stroke-linecap="butt"/>
<g fill="#ff0000"><circle cx="844.40" cy="738.40" r="7"/></g>
<text transform="translate(885.00,709.60) scale(1.0,1.025)" font-size="30.5" text-anchor="start" >Adsorption</text>
<text transform="translate(886.30,748.00) scale(1.0,1.025)" font-size="30.5" text-anchor="start" >Desorption</text>
<text transform="translate(909.50,854.00) scale(1.0,1.025)" font-size="34.45" text-anchor="start" >S<tspan font-size="24" dy="6">BET</tspan><tspan dy="-6" font-size="1">&#8203;</tspan>~118.45 cm<tspan font-size="24" dy="-10.2">2</tspan><tspan dy="10.2" font-size="1">&#8203;</tspan><tspan dx="-2.5"> g</tspan><tspan font-size="23" dy="-10.2">-1</tspan><tspan dy="10.2" font-size="1">&#8203;</tspan></text>
<text transform="translate(891.50,900.00) scale(1.0,1.025)" font-size="34.45" text-anchor="start" >NSn(II)SC-1 (0.25 : 1)</text>
<path d="M1508.65 455.92 L1513.74 366.98 M1514.98 347.42 L1520.32 270.48 M1521.29 270.50 L1526.81 455.90 M1559.20 465.70 L1564.90 465.70 M1584.50 465.70 L1612.80 465.70 M1632.40 465.70 L1671.40 465.70 M1691.00 465.70 L1747.20 465.70 M1766.80 465.70 L1844.80 465.70 M1864.40 465.70 L1989.60 465.70 M2009.16 464.85 L2034.34 462.65" fill="none" stroke="#000" stroke-width="3.2"/>
<g fill="#008000"><circle cx="1467.70" cy="465.70" r="7"/><circle cx="1473.47" cy="465.70" r="7"/><circle cx="1479.24" cy="465.70" r="7"/><circle cx="1485.01" cy="465.70" r="7"/><circle cx="1490.78" cy="465.70" r="7"/><circle cx="1496.55" cy="465.70" r="7"/><circle cx="1502.32" cy="465.70" r="7"/><circle cx="1508.09" cy="465.70" r="7"/><circle cx="1514.30" cy="357.20" r="7"/><circle cx="1521.00" cy="260.70" r="7"/><circle cx="1527.10" cy="465.70" r="7"/><circle cx="1534.60" cy="465.70" r="7"/><circle cx="1541.60" cy="465.70" r="7"/><circle cx="1549.40" cy="465.70" r="7"/><circle cx="1574.70" cy="465.70" r="7"/><circle cx="1622.60" cy="465.70" r="7"/><circle cx="1681.20" cy="465.70" r="7"/><circle cx="1757.00" cy="465.70" r="7"/><circle cx="1854.60" cy="465.70" r="7"/><circle cx="1999.40" cy="465.70" r="7"/></g>
<line x1="1659.00" y1="100.00" x2="1729.40" y2="100.00" stroke="#000" stroke-width="2.8" stroke-linecap="butt"/>
<g fill="#008000"><circle cx="1695.40" cy="100.00" r="6.6"/></g>
<text transform="translate(1733.00,113.60) scale(1.0,1.025)" font-size="34.45" text-anchor="start" >NMgSC-1 (0.5 : 1)</text>
<text transform="translate(1475.80,244.30) scale(1.0,1.025)" font-size="34.2" text-anchor="start" >3.64 nm</text>
<path d="M1504.41 1046.94 L1505.89 1052.26 M1510.40 1052.09 L1512.40 1042.01 M1524.04 1026.21 L1526.06 1016.69 M1528.97 997.34 L1535.43 924.66 M1536.76 905.11 L1542.84 774.09 M1543.68 774.09 L1550.02 936.51 M1553.36 955.64 L1571.84 1013.96 M1584.51 1024.66 L1612.99 1028.64 M1632.41 1031.36 L1670.79 1036.74 M1690.30 1038.28 L1745.50 1039.32 M1765.05 1038.54 L1847.55 1030.46 M1867.10 1029.57 L1990.60 1030.43 M2010.20 1030.23 L2034.30 1029.57" fill="none" stroke="#000" stroke-width="3.2"/>
<g fill="#008000"><circle cx="1467.00" cy="1031.40" r="7"/><circle cx="1473.80" cy="1018.20" r="7"/><circle cx="1478.80" cy="1034.10" r="7"/><circle cx="1483.90" cy="1036.80" r="7"/><circle cx="1490.00" cy="1032.40" r="7"/><circle cx="1495.70" cy="1038.50" r="7"/><circle cx="1501.80" cy="1037.50" r="7"/><circle cx="1508.50" cy="1061.70" r="7"/><circle cx="1514.30" cy="1032.40" r="7"/><circle cx="1522.00" cy="1035.80" r="7"/><circle cx="1528.10" cy="1007.10" r="7"/><circle cx="1536.30" cy="914.90" r="7"/><circle cx="1543.30" cy="764.30" r="7"/><circle cx="1550.40" cy="946.30" r="7"/><circle cx="1574.80" cy="1023.30" r="7"/><circle cx="1622.70" cy="1030.00" r="7"/><circle cx="1680.50" cy="1038.10" r="7"/><circle cx="1755.30" cy="1039.50" r="7"/><circle cx="1857.30" cy="1029.50" r="7"/><circle cx="2000.40" cy="1030.50" r="7"/></g>
<line x1="1608.00" y1="693.60" x2="1678.00" y2="693.60" stroke="#000" stroke-width="2.8" stroke-linecap="butt"/>
<g fill="#008000"><circle cx="1643.20" cy="693.60" r="6.6"/></g>
<text transform="translate(1681.50,707.00) scale(1.0,1.025)" font-size="34.45" text-anchor="start" >NSn(II)SC-1 (0.25 : 1)</text>
<text transform="translate(1494.30,748.80) scale(1.0,1.025)" font-size="34.2" text-anchor="start" >3.91 nm</text>
</svg>
</body></html>
